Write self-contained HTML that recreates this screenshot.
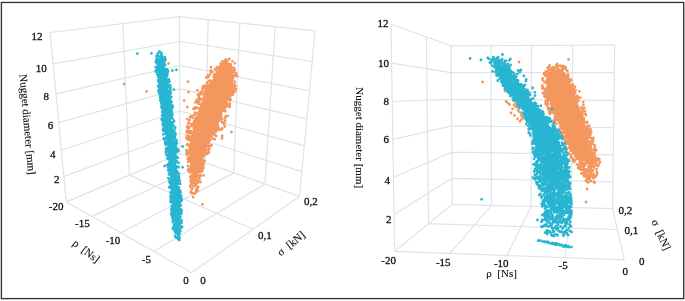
<!DOCTYPE html>
<html><head><meta charset="utf-8"><style>html,body{margin:0;padding:0;background:#fff;}svg{display:block;filter:blur(0.3px);}</style></head>
<body><svg width="685" height="301" viewBox="0 0 685 301"><rect width="685" height="301" fill="#fff"/><path d="M66.3 201.9L179.9 153.6M63.9 176.6L179.8 132.7M61.4 150.2L179.8 111.0M58.7 122.7L179.7 88.6M56.0 93.9L179.6 65.5M53.1 63.9L179.6 41.5M50.1 32.5L179.5 16.7M66.3 201.9L50.1 32.5M129.4 175.1L122.9 23.6M179.9 153.6L179.5 16.7M179.9 153.6L299.5 196.4M179.8 132.7L301.8 171.6M179.8 111.0L304.3 145.8M179.7 88.6L306.8 118.9M179.6 65.5L309.5 90.8M179.6 41.5L312.2 61.5M179.5 16.7L315.1 30.9M205.5 162.8L208.1 19.7M233.7 172.9L239.8 23.0M264.9 184.0L275.2 26.7M299.5 196.4L315.1 30.9M66.3 201.9L179.9 153.6M92.0 216.4L205.5 162.8M120.9 232.8L233.7 172.9M153.8 251.4L264.9 184.0M191.5 272.7L299.5 196.4M66.3 201.9L191.5 272.7M129.4 175.1L253.0 229.2M179.9 153.6L299.5 196.4M394.6 251.4L452.3 204.3M394.0 214.5L452.0 178.3M393.4 177.2L451.8 152.2M392.8 139.5L451.6 125.9M392.2 101.5L451.4 99.4M391.6 63.1L451.2 72.7M391.0 24.3L451.0 45.8M394.6 251.4L391.0 24.3M428.5 223.7L426.4 37.0M452.3 204.3L451.0 45.8M452.3 204.3L612.6 208.6M452.0 178.3L612.9 181.8M451.8 152.2L613.3 154.8M451.6 125.9L613.6 127.6M451.4 99.4L614.0 100.3M451.2 72.7L614.3 72.7M451.0 45.8L614.7 45.0M491.4 205.3L490.9 45.6M531.1 206.4L531.5 45.4M571.5 207.5L572.7 45.2M612.6 208.6L614.7 45.0M394.6 251.4L452.3 204.3M450.0 253.4L491.4 205.3M506.8 255.5L531.1 206.4M564.8 257.7L571.5 207.5M624.3 259.8L612.6 208.6M394.6 251.4L624.3 259.8M428.5 223.7L617.3 229.5M452.3 204.3L612.6 208.6" stroke="#dde3ea" stroke-width="1.2" fill="none"/><path d="M225.5 63.0L224.5 65.0L218.0 70.0L215.0 75.0L213.0 80.0L209.5 85.0L207.5 90.0L202.5 100.0L199.0 110.0L195.5 120.0L193.0 130.0L190.0 140.0L189.5 150.0L190.0 160.0L191.0 170.0L192.0 180.0L197.0 180.0L199.5 170.0L202.5 160.0L206.5 150.0L210.0 140.0L215.0 130.0L219.5 120.0L223.5 110.0L228.0 100.0L233.0 90.0L233.3 85.0L233.5 80.0L233.5 75.0L232.5 70.0L231.5 65.0L230.5 63.0ZM551.5 70.0L548.5 75.0L546.5 80.0L546.5 85.0L546.5 90.0L547.5 95.0L549.5 100.0L550.5 105.0L551.5 110.0L556.5 120.0L562.5 130.0L567.5 140.0L571.5 150.0L576.5 160.0L593.5 160.0L590.5 150.0L588.5 140.0L585.5 130.0L583.5 120.0L580.5 110.0L578.5 105.0L576.5 100.0L575.5 95.0L572.5 90.0L568.5 85.0L566.5 80.0L564.5 75.0L563.5 70.0Z" fill="#f4975f"/><path d="M229.4 59.0h0M226.0 59.5h0M225.4 60.3h0M227.3 60.8h0M222.4 61.4h0M222.7 61.3h0M232.3 61.3h0M225.0 61.9h0M226.9 62.0h0M225.2 62.5h0M226.2 62.7h0M226.8 62.3h0M220.8 63.5h0M226.6 63.6h0M223.6 64.0h0M224.6 63.9h0M229.1 64.0h0M221.5 64.5h0M228.9 64.5h0M230.7 64.4h0M223.7 65.2h0M223.3 65.1h0M229.2 64.8h0M230.7 65.0h0M220.8 65.3h0M221.6 65.3h0M229.8 65.5h0M229.5 65.4h0M224.8 65.8h0M223.7 66.6h0M227.2 66.7h0M227.3 66.3h0M219.8 66.9h0M222.6 66.9h0M230.6 67.1h0M231.7 67.1h0M216.9 67.3h0M218.0 67.6h0M223.7 67.7h0M223.8 67.7h0M227.5 67.6h0M231.2 67.3h0M217.3 67.9h0M219.7 68.0h0M220.7 68.1h0M230.3 68.2h0M230.6 67.9h0M230.8 67.8h0M234.0 68.0h0M223.4 68.3h0M225.2 68.7h0M226.9 68.6h0M227.9 68.3h0M230.2 68.7h0M229.7 68.7h0M215.9 69.0h0M218.7 68.9h0M220.4 69.2h0M224.0 68.8h0M229.7 68.9h0M230.8 69.2h0M215.3 69.7h0M214.9 69.3h0M215.6 69.5h0M221.1 69.6h0M220.9 69.5h0M223.8 69.5h0M234.6 69.3h0M224.0 69.8h0M233.8 70.0h0M211.3 70.6h0M210.7 70.6h0M216.1 70.4h0M220.2 70.4h0M220.7 70.3h0M225.4 70.3h0M227.8 70.7h0M227.2 70.4h0M230.6 70.6h0M231.9 70.3h0M219.6 70.9h0M220.7 71.2h0M224.1 71.0h0M224.8 70.9h0M225.1 70.9h0M228.1 71.1h0M234.3 70.9h0M219.2 71.3h0M225.5 71.4h0M231.5 71.5h0M212.3 71.9h0M234.4 71.9h0M226.0 72.4h0M227.5 72.5h0M210.8 73.0h0M225.4 73.0h0M227.0 73.1h0M226.8 73.0h0M230.9 72.9h0M231.3 73.2h0M231.9 73.1h0M235.3 73.1h0M219.3 73.4h0M221.8 73.6h0M225.6 73.3h0M217.4 73.8h0M219.6 73.9h0M220.7 74.2h0M221.9 74.2h0M224.0 74.1h0M223.8 74.0h0M215.0 74.4h0M215.9 74.3h0M217.0 74.7h0M219.6 74.7h0M219.2 74.3h0M222.6 74.7h0M226.8 74.5h0M208.0 75.2h0M214.1 74.9h0M215.4 75.1h0M216.8 74.9h0M223.1 74.9h0M224.6 75.1h0M226.4 74.9h0M232.1 74.8h0M209.3 75.4h0M223.2 75.6h0M224.7 75.5h0M228.8 75.3h0M230.5 75.7h0M234.1 75.4h0M234.1 75.6h0M214.7 76.1h0M214.9 76.0h0M219.7 76.1h0M223.8 76.1h0M224.9 76.2h0M224.7 76.2h0M227.3 75.8h0M233.4 76.1h0M215.1 76.4h0M217.1 76.4h0M219.1 76.5h0M222.5 76.4h0M222.1 76.6h0M224.1 76.5h0M226.7 76.6h0M229.8 76.5h0M208.3 77.2h0M213.6 76.9h0M214.8 77.2h0M216.5 76.8h0M220.7 77.1h0M220.5 76.8h0M228.4 77.0h0M233.1 77.2h0M215.0 77.7h0M219.9 77.3h0M224.8 77.5h0M225.1 77.6h0M228.1 77.3h0M214.8 78.0h0M214.7 78.1h0M215.1 78.2h0M219.0 77.9h0M226.4 78.2h0M227.9 78.1h0M229.9 78.0h0M214.9 78.3h0M214.7 78.4h0M220.3 78.3h0M220.2 78.3h0M222.6 78.4h0M229.1 78.5h0M232.9 78.6h0M214.9 79.0h0M215.3 79.1h0M218.2 79.2h0M223.9 79.0h0M224.8 78.9h0M224.1 79.1h0M228.2 79.2h0M219.7 79.6h0M220.7 79.4h0M220.1 79.5h0M221.2 79.6h0M222.0 79.3h0M223.8 79.3h0M225.4 79.3h0M226.4 79.6h0M227.6 79.4h0M227.8 79.6h0M229.6 79.3h0M217.3 80.0h0M219.9 79.9h0M219.5 79.8h0M219.4 80.2h0M209.4 80.6h0M212.0 80.7h0M214.1 80.3h0M215.6 80.3h0M218.8 80.5h0M223.7 80.7h0M225.3 80.5h0M231.4 80.4h0M216.2 80.9h0M217.7 81.2h0M219.0 81.1h0M220.9 81.1h0M221.8 81.1h0M221.9 80.8h0M224.6 81.2h0M217.3 81.6h0M217.4 81.6h0M218.2 81.6h0M221.5 81.7h0M222.9 81.7h0M224.5 81.5h0M224.5 81.6h0M226.4 81.6h0M227.7 81.4h0M230.4 81.3h0M234.8 81.6h0M207.6 82.2h0M211.6 82.0h0M215.4 82.0h0M215.9 81.9h0M220.0 82.0h0M221.1 82.1h0M222.6 82.0h0M222.8 81.8h0M224.9 81.9h0M229.4 82.2h0M211.4 82.3h0M216.4 82.6h0M216.1 82.6h0M217.6 82.7h0M217.4 82.7h0M221.2 82.6h0M225.3 82.6h0M227.3 82.3h0M210.7 82.9h0M212.8 82.9h0M218.6 83.0h0M224.9 82.8h0M215.2 83.7h0M216.9 83.4h0M220.4 83.3h0M221.9 83.4h0M223.0 83.6h0M224.8 83.4h0M225.1 83.4h0M226.2 83.3h0M212.9 84.0h0M215.3 84.0h0M219.5 83.8h0M221.3 83.9h0M223.1 83.9h0M223.5 83.9h0M224.1 84.1h0M225.3 83.9h0M210.3 84.5h0M215.1 84.3h0M217.7 84.7h0M219.0 84.5h0M219.5 84.6h0M227.0 84.6h0M234.5 84.5h0M214.5 84.8h0M215.5 84.8h0M217.1 84.8h0M217.7 84.9h0M218.9 85.0h0M219.8 84.8h0M221.2 85.2h0M226.2 84.9h0M228.3 84.8h0M231.9 85.1h0M204.9 85.7h0M206.5 85.4h0M206.3 85.7h0M208.2 85.5h0M215.0 85.5h0M216.5 85.6h0M217.0 85.4h0M216.4 85.5h0M218.5 85.6h0M219.4 85.4h0M222.6 85.7h0M229.3 85.7h0M213.4 86.0h0M213.6 86.1h0M214.0 86.1h0M216.4 85.9h0M217.7 86.1h0M219.3 85.9h0M218.9 86.1h0M220.8 86.2h0M222.0 86.0h0M223.0 86.2h0M222.4 85.8h0M226.1 85.9h0M228.5 86.1h0M228.5 85.9h0M232.8 85.8h0M235.4 86.0h0M203.1 86.5h0M207.3 86.5h0M210.3 86.3h0M212.9 86.5h0M213.8 86.3h0M220.2 86.7h0M225.3 86.3h0M227.9 86.6h0M231.2 86.3h0M233.2 86.7h0M235.0 86.3h0M206.2 87.2h0M208.7 87.1h0M212.0 87.2h0M213.2 87.1h0M215.0 87.2h0M219.8 86.8h0M219.9 87.2h0M224.1 86.9h0M227.2 86.8h0M202.7 87.6h0M208.8 87.5h0M213.3 87.7h0M215.9 87.4h0M216.1 87.4h0M217.9 87.4h0M223.6 87.7h0M226.6 87.3h0M204.3 87.8h0M208.9 88.2h0M212.8 88.1h0M217.0 87.9h0M217.8 88.1h0M219.5 88.1h0M222.8 87.9h0M223.4 87.9h0M225.9 87.9h0M229.3 87.9h0M206.2 88.7h0M210.8 88.6h0M215.6 88.5h0M217.8 88.3h0M220.2 88.4h0M222.2 88.5h0M222.6 88.5h0M222.0 88.5h0M225.7 88.6h0M202.8 89.1h0M209.0 88.9h0M211.6 89.2h0M212.9 89.2h0M223.4 89.1h0M223.6 88.9h0M224.2 89.0h0M227.7 88.8h0M207.5 89.3h0M219.5 89.3h0M220.0 89.5h0M220.1 89.4h0M223.0 89.5h0M224.4 89.4h0M225.1 89.7h0M226.5 89.7h0M231.4 89.7h0M233.5 89.5h0M210.8 89.8h0M214.2 89.8h0M216.1 90.2h0M220.5 90.2h0M220.0 90.2h0M222.0 90.1h0M227.4 90.2h0M231.8 89.8h0M206.0 90.5h0M212.9 90.4h0M214.3 90.5h0M214.5 90.3h0M216.1 90.7h0M216.5 90.4h0M216.6 90.3h0M221.7 90.6h0M222.1 90.5h0M224.2 90.3h0M229.2 90.4h0M230.4 90.3h0M202.1 91.0h0M205.2 91.0h0M212.1 91.0h0M213.5 91.2h0M216.4 91.1h0M218.7 90.9h0M218.8 90.8h0M221.6 90.8h0M221.9 90.9h0M224.7 91.1h0M225.1 90.9h0M226.6 91.2h0M231.9 91.0h0M231.5 91.0h0M206.0 91.6h0M205.9 91.3h0M207.7 91.3h0M210.0 91.4h0M213.7 91.6h0M214.4 91.7h0M216.1 91.6h0M220.7 91.6h0M221.5 91.3h0M223.4 91.7h0M224.1 91.4h0M224.5 91.6h0M228.1 91.7h0M232.9 91.3h0M235.1 91.4h0M208.1 92.1h0M211.2 92.1h0M214.0 92.1h0M214.5 92.1h0M217.5 91.9h0M218.2 92.1h0M222.7 92.2h0M224.3 92.2h0M224.6 92.2h0M227.4 91.9h0M232.0 92.1h0M231.8 91.8h0M233.6 92.0h0M205.3 92.6h0M213.3 92.7h0M214.5 92.3h0M215.5 92.5h0M219.0 92.3h0M222.7 92.6h0M206.2 93.1h0M207.9 93.0h0M212.2 93.2h0M212.9 92.8h0M214.8 93.0h0M219.5 93.0h0M220.0 93.1h0M222.8 93.0h0M228.2 93.2h0M203.1 93.3h0M208.0 93.6h0M208.3 93.7h0M212.2 93.3h0M212.9 93.3h0M213.3 93.5h0M216.6 93.4h0M218.3 93.5h0M219.3 93.3h0M222.5 93.4h0M225.1 93.3h0M229.3 93.5h0M229.7 93.5h0M200.8 94.0h0M202.3 93.8h0M206.8 94.0h0M210.6 94.1h0M210.7 93.8h0M211.7 94.2h0M218.6 93.8h0M221.9 94.1h0M222.0 94.0h0M228.0 93.9h0M212.3 94.5h0M212.4 94.7h0M216.6 94.7h0M219.0 94.7h0M221.8 94.3h0M223.5 94.6h0M224.4 94.3h0M230.4 94.7h0M233.0 94.5h0M198.0 94.8h0M205.7 94.9h0M208.0 95.1h0M208.6 94.8h0M211.8 95.1h0M213.0 95.0h0M215.9 95.0h0M217.8 95.0h0M218.0 95.2h0M224.1 95.0h0M225.6 95.0h0M230.3 95.1h0M231.6 95.1h0M199.1 95.5h0M205.9 95.5h0M207.8 95.6h0M208.6 95.6h0M210.9 95.4h0M211.9 95.5h0M211.5 95.3h0M212.5 95.4h0M215.4 95.6h0M222.6 95.5h0M224.2 95.6h0M224.9 95.4h0M230.4 95.5h0M204.2 96.0h0M206.9 96.1h0M214.8 95.8h0M220.4 96.1h0M227.0 96.1h0M207.4 96.5h0M208.8 96.6h0M208.4 96.3h0M208.1 96.7h0M215.1 96.4h0M216.6 96.5h0M227.3 96.3h0M227.3 96.6h0M198.8 97.2h0M206.7 96.8h0M208.1 97.1h0M209.0 96.8h0M209.8 97.1h0M217.5 96.9h0M218.0 97.0h0M223.3 97.0h0M223.6 97.2h0M224.7 97.2h0M204.7 97.4h0M205.2 97.3h0M207.4 97.6h0M207.3 97.5h0M207.8 97.6h0M210.4 97.6h0M209.7 97.4h0M213.7 97.7h0M217.1 97.6h0M219.6 97.5h0M220.6 97.5h0M226.4 97.3h0M204.8 97.9h0M206.5 98.2h0M208.2 98.2h0M209.1 98.1h0M210.8 98.2h0M216.5 98.2h0M198.6 98.6h0M200.0 98.5h0M203.6 98.5h0M205.3 98.7h0M208.6 98.4h0M216.3 98.3h0M224.3 98.3h0M228.7 98.5h0M229.2 98.7h0M229.6 98.3h0M203.1 99.2h0M205.4 98.8h0M212.4 98.8h0M212.0 99.2h0M215.2 99.1h0M216.2 99.1h0M219.8 98.9h0M223.0 99.0h0M223.6 98.9h0M226.5 99.2h0M227.8 99.0h0M230.4 98.9h0M201.9 99.4h0M201.2 99.4h0M203.2 99.7h0M204.4 99.5h0M210.9 99.7h0M218.5 99.3h0M220.2 99.6h0M221.7 99.7h0M223.1 99.3h0M223.9 99.6h0M224.0 99.7h0M225.2 99.4h0M228.7 99.7h0M196.8 99.9h0M203.3 99.9h0M205.6 99.8h0M210.6 100.2h0M218.6 100.2h0M219.6 99.9h0M230.6 99.9h0M199.1 100.4h0M205.3 100.6h0M207.4 100.6h0M208.1 100.4h0M207.7 100.7h0M208.6 100.7h0M212.3 100.6h0M212.4 100.7h0M212.5 100.4h0M215.2 100.7h0M216.0 100.3h0M218.1 100.3h0M220.6 100.3h0M224.3 100.3h0M229.1 100.3h0M209.0 101.1h0M215.5 100.8h0M219.9 100.9h0M221.2 101.0h0M222.1 101.0h0M196.8 101.4h0M199.3 101.4h0M204.3 101.5h0M209.6 101.3h0M220.5 101.7h0M221.4 101.3h0M203.3 102.2h0M209.6 101.9h0M213.3 102.1h0M216.5 101.9h0M220.4 102.1h0M221.4 101.9h0M195.4 102.4h0M204.8 102.7h0M207.3 102.4h0M211.8 102.7h0M217.3 102.3h0M217.8 102.7h0M217.9 102.4h0M221.2 102.5h0M223.0 102.5h0M208.3 102.8h0M209.6 103.2h0M210.6 102.9h0M213.1 103.1h0M213.8 103.0h0M219.0 102.9h0M220.9 102.8h0M222.1 102.9h0M221.8 103.2h0M223.7 103.0h0M198.1 103.6h0M202.1 103.7h0M208.2 103.4h0M211.8 103.6h0M213.3 103.4h0M215.0 103.4h0M219.8 103.7h0M220.8 103.4h0M220.2 103.5h0M221.4 103.7h0M227.2 103.5h0M230.0 103.6h0M203.1 103.8h0M204.4 103.9h0M207.5 104.0h0M209.9 104.2h0M211.9 104.1h0M226.3 104.2h0M226.8 104.1h0M200.1 104.4h0M205.6 104.4h0M209.3 104.4h0M209.6 104.7h0M212.9 104.6h0M213.9 104.4h0M221.3 104.3h0M227.3 104.6h0M202.6 105.2h0M204.5 104.8h0M210.0 105.2h0M214.2 104.9h0M215.5 105.1h0M217.3 105.1h0M226.7 105.2h0M203.4 105.5h0M204.1 105.6h0M204.4 105.4h0M204.9 105.4h0M209.9 105.4h0M209.8 105.4h0M216.0 105.3h0M216.2 105.7h0M216.9 105.3h0M216.7 105.4h0M219.6 105.5h0M220.0 105.7h0M227.9 105.4h0M204.2 106.2h0M205.7 105.8h0M212.1 105.9h0M212.1 106.1h0M213.3 105.9h0M213.2 105.8h0M216.7 106.0h0M217.5 105.9h0M217.9 105.8h0M219.3 106.0h0M219.3 105.8h0M222.1 105.9h0M223.2 106.0h0M204.1 106.7h0M204.2 106.5h0M208.9 106.5h0M211.6 106.3h0M211.6 106.5h0M213.6 106.3h0M215.8 106.5h0M222.0 106.7h0M227.3 106.4h0M228.3 106.3h0M208.4 106.9h0M210.6 107.2h0M212.0 107.0h0M212.3 107.0h0M220.4 107.1h0M220.9 107.1h0M224.9 106.8h0M229.8 106.8h0M195.8 107.5h0M206.8 107.7h0M207.5 107.3h0M207.6 107.7h0M208.8 107.4h0M210.4 107.5h0M209.9 107.3h0M211.1 107.7h0M211.3 107.3h0M212.6 107.4h0M217.7 107.3h0M225.1 107.5h0M194.5 107.8h0M197.4 108.0h0M201.5 108.1h0M210.6 108.2h0M213.7 108.2h0M214.4 107.8h0M218.6 107.8h0M199.6 108.4h0M199.6 108.7h0M203.8 108.3h0M204.3 108.4h0M204.2 108.3h0M205.5 108.4h0M206.6 108.7h0M208.0 108.3h0M211.2 108.5h0M212.6 108.5h0M215.3 108.6h0M216.7 108.4h0M219.1 108.7h0M221.0 108.7h0M194.3 108.9h0M193.5 109.0h0M209.2 109.2h0M209.3 108.8h0M212.3 109.0h0M223.5 108.8h0M199.8 109.4h0M203.0 109.6h0M214.9 109.3h0M214.5 109.4h0M218.0 109.7h0M224.5 109.7h0M203.2 109.9h0M205.8 110.0h0M206.5 109.9h0M209.7 109.9h0M211.7 110.2h0M212.1 109.9h0M212.9 110.1h0M217.4 109.8h0M201.1 110.5h0M202.3 110.6h0M204.2 110.5h0M207.4 110.4h0M210.7 110.4h0M214.0 110.6h0M218.1 110.7h0M219.1 110.5h0M219.8 110.3h0M205.4 111.0h0M205.6 110.8h0M206.8 111.0h0M208.1 111.2h0M209.1 111.0h0M216.3 111.0h0M217.9 111.1h0M219.6 111.1h0M222.8 110.8h0M205.7 111.5h0M207.3 111.3h0M209.1 111.5h0M214.0 111.5h0M220.0 111.7h0M225.3 111.3h0M199.0 111.8h0M202.1 112.1h0M212.7 112.0h0M218.8 112.1h0M203.0 112.3h0M206.1 112.7h0M210.9 112.7h0M212.7 112.5h0M194.8 112.8h0M195.8 112.8h0M195.1 113.5h0M199.6 113.4h0M200.0 113.4h0M204.1 113.7h0M204.0 113.6h0M208.8 113.3h0M210.2 113.6h0M211.4 113.4h0M212.1 113.7h0M214.7 113.5h0M215.8 113.5h0M215.9 113.7h0M215.9 113.4h0M218.3 113.7h0M219.9 113.3h0M197.6 113.9h0M199.1 113.9h0M201.3 114.0h0M201.9 114.2h0M202.1 114.0h0M204.7 114.0h0M204.5 113.8h0M205.6 114.2h0M206.3 114.1h0M209.7 113.8h0M221.2 114.2h0M202.8 114.3h0M202.6 114.7h0M204.0 114.4h0M204.9 114.7h0M209.2 114.7h0M213.4 114.7h0M216.2 114.4h0M218.8 114.6h0M220.2 114.6h0M221.2 114.5h0M221.2 114.5h0M194.6 115.1h0M201.4 115.1h0M206.3 115.0h0M206.8 114.8h0M206.3 115.1h0M209.7 114.8h0M215.9 114.8h0M199.9 115.3h0M207.1 115.3h0M209.1 115.7h0M210.2 115.4h0M209.8 115.3h0M220.3 115.5h0M220.4 115.5h0M200.2 116.2h0M199.9 116.0h0M200.9 116.2h0M203.1 115.8h0M202.9 116.1h0M204.3 116.1h0M204.8 116.0h0M206.2 115.9h0M205.7 115.8h0M207.3 116.2h0M210.8 116.0h0M219.7 115.8h0M219.7 115.8h0M227.7 115.8h0M201.8 116.5h0M205.4 116.3h0M206.1 116.6h0M210.7 116.4h0M213.6 116.4h0M218.1 116.3h0M220.4 116.4h0M221.0 116.6h0M225.8 116.4h0M199.9 117.0h0M202.9 117.2h0M204.9 117.2h0M209.9 117.0h0M212.7 116.8h0M212.5 116.8h0M212.6 117.1h0M215.8 117.0h0M215.1 117.0h0M196.5 117.4h0M202.3 117.6h0M204.1 117.7h0M204.7 117.6h0M205.8 117.3h0M206.5 117.5h0M212.6 117.5h0M213.5 117.6h0M215.5 117.6h0M218.9 117.7h0M225.5 117.5h0M192.6 117.8h0M195.5 118.1h0M207.8 117.9h0M209.1 118.0h0M210.5 118.0h0M210.2 118.0h0M213.3 117.8h0M220.4 118.0h0M220.2 118.2h0M225.0 117.9h0M195.8 118.4h0M203.2 118.6h0M204.4 118.3h0M203.5 118.5h0M207.8 118.6h0M208.5 118.3h0M209.4 118.4h0M210.9 118.3h0M215.3 118.5h0M218.6 118.3h0M196.8 118.8h0M200.8 119.0h0M202.0 119.2h0M203.2 119.0h0M207.5 118.8h0M208.0 119.0h0M211.7 119.0h0M218.0 119.0h0M222.2 119.1h0M204.9 119.7h0M204.8 119.6h0M207.1 119.4h0M212.2 119.4h0M216.0 119.4h0M218.9 119.5h0M189.7 119.8h0M195.2 119.9h0M197.3 120.0h0M198.4 120.0h0M208.1 120.2h0M208.1 119.8h0M208.2 120.1h0M209.4 119.9h0M210.5 119.9h0M213.5 120.1h0M198.6 120.3h0M198.5 120.5h0M198.9 120.5h0M200.6 120.4h0M202.6 120.4h0M202.5 120.3h0M203.0 120.3h0M204.6 120.7h0M205.0 120.3h0M212.9 120.6h0M216.7 120.6h0M217.8 120.3h0M220.5 120.4h0M225.2 120.6h0M194.2 121.0h0M201.0 120.9h0M204.3 121.0h0M205.5 120.9h0M209.8 121.1h0M213.7 121.2h0M214.8 121.1h0M188.9 121.5h0M203.0 121.3h0M204.5 121.4h0M208.0 121.3h0M212.5 121.4h0M217.8 121.5h0M194.2 122.1h0M204.4 121.8h0M207.0 122.2h0M208.8 121.9h0M210.3 122.1h0M211.7 122.1h0M222.5 122.2h0M195.1 122.3h0M200.1 122.5h0M210.7 122.6h0M210.6 122.7h0M211.8 122.4h0M212.5 122.3h0M213.8 122.6h0M215.4 122.5h0M216.6 122.4h0M217.6 122.5h0M222.5 122.7h0M206.5 123.1h0M209.8 122.9h0M210.8 123.0h0M224.4 122.9h0M188.4 123.5h0M195.9 123.4h0M196.5 123.4h0M199.2 123.4h0M200.3 123.3h0M204.1 123.7h0M208.0 123.3h0M210.5 123.3h0M210.7 123.6h0M211.7 123.6h0M212.6 123.4h0M216.4 123.7h0M223.9 123.6h0M191.0 124.1h0M195.5 124.2h0M202.1 124.2h0M206.2 124.2h0M207.9 124.0h0M210.7 123.8h0M211.4 124.1h0M214.1 123.8h0M215.1 123.8h0M195.9 124.6h0M198.3 124.7h0M201.7 124.7h0M204.0 124.5h0M203.3 124.4h0M207.7 124.4h0M208.0 124.7h0M211.8 124.5h0M212.2 124.6h0M212.9 124.3h0M217.4 124.3h0M224.1 124.3h0M193.7 125.1h0M199.5 125.1h0M206.0 125.1h0M206.9 125.0h0M207.8 124.9h0M209.4 125.1h0M192.0 125.7h0M200.6 125.5h0M201.8 125.3h0M207.5 125.4h0M213.8 125.4h0M217.8 125.7h0M193.4 125.9h0M195.9 126.1h0M196.8 125.9h0M199.8 126.2h0M205.1 126.2h0M206.3 125.8h0M209.1 125.9h0M209.8 126.2h0M212.1 125.9h0M214.9 126.1h0M187.6 126.4h0M187.2 126.4h0M197.7 126.5h0M198.4 126.6h0M200.2 126.6h0M209.4 126.7h0M208.9 126.4h0M208.9 126.3h0M209.7 126.5h0M211.0 126.7h0M211.7 126.3h0M213.0 126.7h0M214.4 126.3h0M215.6 126.5h0M217.4 126.3h0M187.1 127.0h0M189.8 127.1h0M196.9 126.9h0M197.3 127.0h0M197.8 127.2h0M201.3 126.9h0M202.1 127.1h0M203.0 126.9h0M205.2 126.8h0M207.7 127.2h0M213.8 126.9h0M213.3 127.1h0M217.3 127.0h0M187.5 127.7h0M193.8 127.3h0M195.8 127.6h0M197.8 127.4h0M197.7 127.7h0M198.1 127.3h0M203.3 127.6h0M205.9 127.4h0M206.9 127.6h0M208.7 127.4h0M207.8 127.3h0M211.2 127.4h0M211.4 127.3h0M211.6 127.4h0M212.1 127.7h0M213.4 127.7h0M218.6 127.6h0M195.8 127.9h0M199.5 127.8h0M199.3 128.1h0M200.1 128.2h0M202.6 127.9h0M202.6 128.1h0M188.3 128.3h0M193.7 128.3h0M198.7 128.7h0M199.5 128.3h0M200.4 128.6h0M202.5 128.3h0M206.3 128.4h0M205.7 128.3h0M208.3 128.4h0M208.8 128.3h0M210.3 128.3h0M210.7 128.5h0M217.1 128.3h0M218.6 128.7h0M222.2 128.5h0M199.9 129.1h0M202.8 129.2h0M203.9 129.2h0M204.1 128.9h0M208.9 128.8h0M215.3 129.0h0M216.8 129.0h0M195.5 129.6h0M196.0 129.4h0M199.1 129.5h0M199.8 129.3h0M203.0 129.6h0M204.2 129.6h0M205.2 129.5h0M206.4 129.7h0M206.5 129.5h0M208.0 129.4h0M209.4 129.4h0M209.4 129.3h0M211.6 129.4h0M212.2 129.4h0M212.5 129.6h0M216.5 129.5h0M219.3 129.5h0M221.7 129.4h0M200.5 130.1h0M201.5 130.0h0M204.4 129.9h0M207.9 130.0h0M207.5 129.8h0M210.1 130.2h0M211.9 130.1h0M212.7 130.2h0M212.3 130.0h0M213.8 130.0h0M219.0 129.9h0M199.7 130.3h0M200.3 130.7h0M201.3 130.5h0M205.4 130.6h0M205.9 130.3h0M205.1 130.3h0M210.8 130.6h0M212.0 130.7h0M213.0 130.4h0M214.5 130.3h0M187.4 130.8h0M189.4 130.8h0M191.2 131.2h0M195.0 131.1h0M194.5 131.0h0M199.9 130.8h0M201.2 131.0h0M203.8 131.0h0M205.7 131.0h0M207.0 131.1h0M211.4 131.1h0M214.7 131.2h0M214.3 131.0h0M216.2 131.0h0M187.0 131.4h0M194.1 131.5h0M198.0 131.6h0M205.0 131.3h0M206.8 131.5h0M208.0 131.5h0M209.0 131.7h0M211.0 131.7h0M213.2 131.4h0M213.9 131.7h0M216.2 131.6h0M197.1 132.0h0M199.6 132.1h0M201.3 132.0h0M202.3 131.9h0M205.3 132.0h0M206.8 131.8h0M208.9 132.1h0M209.7 131.8h0M210.9 132.2h0M193.4 132.7h0M196.3 132.3h0M197.2 132.7h0M197.5 132.4h0M197.3 132.4h0M200.1 132.3h0M202.8 132.6h0M203.8 132.4h0M204.1 132.3h0M206.0 132.5h0M208.9 132.4h0M214.7 132.3h0M191.8 132.8h0M197.0 133.1h0M199.9 132.9h0M200.1 133.1h0M202.1 132.9h0M201.4 133.1h0M203.1 132.8h0M205.4 133.2h0M209.2 133.2h0M209.3 133.2h0M211.9 133.0h0M188.6 133.3h0M193.2 133.6h0M195.5 133.3h0M197.1 133.6h0M196.3 133.4h0M197.4 133.6h0M198.2 133.3h0M198.9 133.4h0M199.5 133.6h0M200.8 133.6h0M201.3 133.6h0M204.0 133.7h0M206.5 133.5h0M208.5 133.3h0M209.9 133.5h0M213.8 133.7h0M196.3 133.8h0M198.2 133.8h0M201.2 134.2h0M201.0 133.9h0M202.7 134.1h0M206.2 134.1h0M210.3 134.1h0M210.9 134.2h0M213.0 134.1h0M199.0 134.6h0M199.9 134.6h0M199.5 134.4h0M199.5 134.6h0M200.2 134.5h0M203.4 134.4h0M203.9 134.7h0M195.1 135.2h0M194.4 134.9h0M195.6 135.0h0M204.4 135.2h0M209.1 134.9h0M210.2 135.2h0M210.5 134.9h0M214.3 134.8h0M193.9 135.7h0M197.0 135.6h0M200.3 135.6h0M201.5 135.7h0M204.8 135.3h0M210.2 135.5h0M186.9 135.8h0M186.9 136.2h0M197.9 136.0h0M201.8 135.9h0M216.1 136.0h0M189.1 136.5h0M191.8 136.7h0M194.4 136.7h0M195.5 136.5h0M202.7 136.6h0M203.6 136.3h0M205.9 136.4h0M205.5 136.7h0M206.2 136.5h0M208.5 136.4h0M187.5 137.2h0M190.3 137.1h0M197.1 136.9h0M199.5 136.8h0M199.2 136.9h0M200.4 137.0h0M200.9 137.0h0M201.8 137.2h0M205.7 137.0h0M208.7 137.0h0M211.4 136.8h0M189.1 137.4h0M200.8 137.3h0M203.4 137.4h0M206.0 137.7h0M206.9 137.7h0M186.4 138.2h0M190.9 138.1h0M199.1 137.8h0M200.6 138.2h0M205.3 137.8h0M206.3 137.9h0M207.9 137.9h0M196.0 138.5h0M203.2 138.3h0M205.2 138.4h0M206.1 138.6h0M207.8 138.6h0M213.2 138.7h0M190.3 139.0h0M194.7 139.0h0M198.1 139.2h0M202.4 138.9h0M203.8 139.1h0M208.6 139.2h0M187.7 139.5h0M193.6 139.6h0M196.1 139.3h0M198.7 139.7h0M200.8 139.3h0M202.5 139.6h0M214.8 139.3h0M188.4 139.8h0M196.3 139.8h0M197.0 139.9h0M198.3 139.8h0M198.8 139.8h0M200.6 139.8h0M201.8 140.1h0M203.0 140.2h0M205.1 140.0h0M207.6 140.2h0M207.7 140.1h0M210.3 140.0h0M191.3 140.7h0M202.1 140.7h0M207.6 140.3h0M190.7 140.9h0M191.5 141.0h0M193.6 141.1h0M195.7 140.8h0M197.0 141.0h0M202.6 141.1h0M205.7 141.0h0M194.1 141.7h0M195.5 141.6h0M195.0 141.5h0M196.2 141.3h0M196.5 141.3h0M197.1 141.6h0M199.4 141.3h0M202.7 141.3h0M202.5 141.4h0M205.1 141.3h0M206.0 141.4h0M191.8 142.1h0M191.3 141.9h0M193.4 142.1h0M196.6 142.2h0M200.2 142.1h0M201.7 142.1h0M202.5 141.8h0M206.1 142.0h0M206.8 142.0h0M192.8 142.3h0M192.8 142.4h0M196.6 142.6h0M196.7 142.6h0M199.6 142.5h0M201.1 142.4h0M201.0 142.6h0M201.8 142.3h0M203.1 142.3h0M207.2 142.4h0M195.2 143.2h0M197.6 143.0h0M199.6 143.0h0M200.1 143.0h0M204.4 142.8h0M207.4 143.0h0M208.9 143.0h0M187.5 144.2h0M199.4 144.0h0M200.0 144.0h0M206.5 143.8h0M206.8 144.0h0M207.4 143.9h0M190.6 144.7h0M192.0 144.4h0M192.0 144.3h0M194.8 144.4h0M194.0 144.7h0M195.5 144.3h0M196.0 144.7h0M199.1 144.6h0M203.5 144.5h0M203.4 144.6h0M207.7 144.4h0M208.0 144.4h0M187.0 145.2h0M189.8 145.1h0M194.8 145.2h0M199.5 145.2h0M199.9 144.8h0M211.6 145.2h0M194.9 145.5h0M197.0 145.7h0M198.3 145.6h0M203.5 145.7h0M204.6 145.6h0M189.6 146.0h0M196.7 146.1h0M199.6 145.8h0M203.8 145.8h0M205.3 145.8h0M210.2 146.2h0M210.7 146.0h0M190.8 146.5h0M198.8 146.4h0M199.5 146.5h0M203.6 146.4h0M208.6 146.6h0M189.9 147.2h0M194.5 147.0h0M198.7 147.2h0M199.8 147.2h0M202.3 146.9h0M204.3 146.9h0M205.0 146.8h0M191.8 147.3h0M193.4 147.6h0M194.0 147.4h0M199.3 147.6h0M205.4 147.7h0M190.4 147.8h0M192.8 148.0h0M192.3 147.8h0M193.8 148.1h0M194.9 148.1h0M194.5 148.2h0M195.5 148.1h0M199.1 148.2h0M205.8 147.8h0M193.1 148.7h0M195.7 148.7h0M200.2 148.7h0M202.3 148.3h0M192.4 149.0h0M192.2 149.0h0M193.7 149.0h0M194.4 149.0h0M195.6 148.8h0M199.0 149.0h0M201.9 148.9h0M209.3 149.0h0M190.4 149.3h0M194.5 149.3h0M194.1 149.3h0M196.7 149.5h0M197.3 149.5h0M202.2 149.4h0M202.1 149.5h0M202.7 149.3h0M202.6 149.5h0M204.6 149.7h0M186.6 150.1h0M194.4 150.2h0M195.3 149.9h0M195.8 149.8h0M197.3 149.9h0M202.9 149.9h0M204.3 149.8h0M205.6 149.8h0M207.5 150.0h0M186.3 150.6h0M191.3 150.6h0M195.9 150.7h0M197.5 150.7h0M198.1 150.3h0M199.2 150.5h0M202.5 150.5h0M191.9 151.1h0M192.4 150.9h0M193.3 151.1h0M197.6 150.9h0M188.2 151.4h0M198.5 151.7h0M202.5 151.4h0M202.5 151.6h0M190.3 151.8h0M190.3 151.9h0M193.2 152.0h0M194.0 151.8h0M194.9 151.8h0M197.2 151.8h0M199.3 151.8h0M203.0 151.9h0M209.0 152.1h0M189.4 152.3h0M192.1 152.4h0M198.6 152.4h0M199.6 152.7h0M200.7 152.3h0M202.3 152.4h0M202.3 152.7h0M205.9 152.4h0M189.9 152.9h0M194.0 153.2h0M196.5 153.1h0M201.2 153.0h0M202.6 152.9h0M205.4 153.2h0M208.2 153.2h0M186.4 153.4h0M187.4 153.7h0M196.0 153.7h0M201.7 153.4h0M205.2 153.5h0M206.0 153.4h0M187.3 154.0h0M191.9 154.0h0M201.7 153.9h0M203.1 153.8h0M207.2 153.8h0M188.1 154.3h0M194.7 154.5h0M196.6 154.6h0M200.6 154.3h0M203.8 154.6h0M187.5 154.9h0M191.7 155.1h0M194.6 155.2h0M194.7 155.1h0M195.0 154.9h0M197.7 154.8h0M201.7 155.2h0M204.8 154.8h0M191.4 155.7h0M192.7 155.7h0M195.4 155.7h0M195.3 155.3h0M198.0 155.5h0M202.6 155.5h0M192.0 156.2h0M198.8 156.2h0M190.7 156.3h0M190.8 156.5h0M192.3 156.3h0M195.1 156.6h0M195.2 156.3h0M195.1 156.5h0M198.1 156.6h0M189.5 157.1h0M191.2 157.2h0M194.4 157.0h0M193.8 157.2h0M194.9 157.2h0M201.0 156.8h0M203.2 157.2h0M190.5 157.5h0M193.6 157.4h0M198.8 157.6h0M199.6 157.7h0M200.3 157.3h0M201.5 157.3h0M189.6 157.9h0M190.2 158.0h0M190.4 157.9h0M191.8 158.2h0M191.3 158.0h0M192.7 158.2h0M193.9 158.1h0M201.3 157.8h0M187.7 158.7h0M189.2 158.7h0M190.5 158.7h0M190.9 158.6h0M197.8 158.4h0M190.5 159.0h0M199.5 159.2h0M200.8 158.8h0M190.0 159.6h0M191.5 159.6h0M192.4 159.4h0M191.9 159.5h0M198.2 159.6h0M199.0 159.7h0M201.9 159.5h0M189.2 159.9h0M192.8 160.1h0M193.0 159.9h0M192.2 159.9h0M194.3 160.0h0M191.4 160.3h0M194.5 160.5h0M194.0 160.4h0M200.5 160.5h0M201.3 160.4h0M203.9 160.7h0M197.4 160.9h0M204.6 161.0h0M188.7 161.3h0M188.5 161.5h0M192.5 161.4h0M192.7 161.5h0M203.6 161.4h0M188.2 161.9h0M191.3 162.1h0M192.7 161.8h0M201.3 162.1h0M194.9 162.3h0M195.9 162.5h0M201.7 162.4h0M192.8 163.0h0M194.4 163.0h0M194.2 163.0h0M196.2 163.1h0M197.9 163.2h0M201.7 163.1h0M198.0 163.4h0M192.8 164.2h0M193.7 163.8h0M195.1 164.2h0M196.4 163.9h0M191.4 164.6h0M192.9 164.3h0M194.5 164.4h0M203.9 164.5h0M191.4 165.2h0M198.4 165.2h0M198.3 165.1h0M198.1 164.9h0M201.7 165.1h0M201.6 164.8h0M196.6 165.3h0M200.1 165.4h0M187.9 165.9h0M191.0 166.0h0M191.9 166.1h0M195.0 166.2h0M196.5 165.9h0M199.8 166.0h0M199.0 166.4h0M201.5 166.6h0M202.0 166.3h0M192.9 166.8h0M190.6 167.5h0M194.9 167.7h0M202.2 167.7h0M196.9 168.0h0M199.6 167.9h0M193.6 168.7h0M194.2 168.7h0M195.8 168.3h0M198.4 168.5h0M188.8 168.9h0M190.2 169.1h0M191.2 168.8h0M194.6 169.1h0M194.9 169.0h0M200.3 169.2h0M201.4 168.9h0M190.7 169.3h0M196.5 169.5h0M196.1 169.3h0M201.3 169.5h0M193.1 169.9h0M195.1 170.2h0M202.5 169.9h0M192.1 170.6h0M192.8 170.6h0M195.2 170.4h0M196.5 170.4h0M200.8 170.4h0M200.6 170.4h0M190.5 171.2h0M190.3 170.9h0M192.1 170.8h0M193.9 170.8h0M193.5 170.8h0M193.2 170.8h0M196.3 170.9h0M196.0 170.9h0M198.3 170.8h0M199.6 171.1h0M195.1 171.6h0M202.0 171.6h0M192.2 171.8h0M193.8 171.8h0M197.6 171.9h0M198.7 171.9h0M200.0 172.1h0M189.4 172.3h0M192.0 172.7h0M195.8 172.7h0M194.6 173.2h0M193.3 173.7h0M195.9 173.5h0M195.6 174.1h0M195.8 173.8h0M192.8 174.3h0M196.6 174.4h0M194.6 175.2h0M194.8 174.8h0M197.1 175.6h0M199.8 175.4h0M200.1 175.5h0M190.9 176.1h0M193.0 176.2h0M200.8 175.9h0M191.5 176.4h0M191.5 176.6h0M191.6 176.6h0M196.4 176.6h0M195.9 176.7h0M197.0 176.3h0M190.1 177.0h0M192.7 177.4h0M194.0 177.6h0M199.0 177.6h0M191.9 178.4h0M193.2 179.1h0M191.4 179.7h0M191.0 179.4h0M193.3 179.5h0M194.0 179.7h0M195.6 179.6h0M194.4 179.9h0M196.4 180.1h0M191.7 180.6h0M193.1 180.6h0M197.4 180.5h0M191.1 180.9h0M190.6 181.6h0M193.9 181.3h0M197.7 181.8h0M194.7 182.5h0M193.7 182.8h0M191.4 183.5h0M196.9 183.4h0M196.2 183.8h0M194.8 184.6h0M191.7 184.8h0M190.6 185.4h0M195.5 185.6h0M195.5 185.5h0M190.1 186.1h0M190.3 186.3h0M193.6 186.4h0M197.3 187.2h0M198.2 187.0h0M191.5 188.2h0M192.3 188.7h0M196.8 188.9h0M196.3 189.8h0M197.7 190.5h0M197.0 190.7h0M191.2 191.4h0M196.7 191.5h0M195.8 192.0h0M190.8 192.4h0M192.1 193.2h0M192.8 193.3h0M194.6 193.7h0M193.1 197.2h0M234.9 63.3h0M211.0 67.1h0M217.1 72.6h0M218.0 73.2h0M236.2 73.6h0M236.2 76.1h0M237.3 76.1h0M206.1 77.7h0M228.9 77.8h0M223.3 80.4h0M229.4 81.1h0M217.4 82.6h0M207.0 82.8h0M219.5 84.2h0M211.1 84.8h0M222.5 86.4h0M215.2 87.5h0M226.8 88.6h0M236.0 88.9h0M209.8 89.7h0M230.2 89.7h0M197.3 90.3h0M188.5 92.2h0M200.5 92.4h0M199.7 93.7h0M224.8 96.2h0M224.4 98.7h0M184.2 100.6h0M220.5 100.9h0M197.3 101.8h0M229.5 105.1h0M228.5 105.5h0M187.3 107.2h0M209.2 112.0h0M216.6 112.1h0M216.0 114.9h0M192.2 116.1h0M190.9 116.3h0M200.0 116.3h0M205.5 116.5h0M190.0 117.0h0M205.6 118.6h0M221.2 118.5h0M187.0 119.1h0M193.4 123.4h0M198.4 127.6h0M205.5 127.8h0M187.1 131.3h0M186.7 132.1h0M190.0 132.7h0M191.3 133.3h0M207.8 135.5h0M208.1 136.9h0M188.7 137.8h0M221.9 138.4h0M190.3 139.2h0M196.3 140.3h0M200.3 141.6h0M195.2 148.1h0M189.7 149.0h0M201.0 153.4h0M200.0 154.8h0M197.3 155.9h0M197.9 156.5h0M199.9 159.6h0M198.0 165.1h0M187.9 169.9h0M196.5 169.8h0M193.0 171.7h0M200.5 175.1h0M203.7 175.3h0M199.5 179.0h0M198.5 182.0h0M200.5 182.0h0M557.2 63.8h0M557.0 64.5h0M549.7 65.3h0M556.3 65.5h0M559.2 65.8h0M560.4 66.0h0M561.9 66.0h0M558.0 66.6h0M558.3 66.5h0M557.7 66.5h0M564.1 66.4h0M564.0 66.5h0M549.2 67.1h0M553.5 67.1h0M557.5 67.0h0M547.6 67.7h0M557.3 67.5h0M565.8 67.4h0M551.9 68.2h0M554.6 68.2h0M557.1 67.9h0M562.2 67.8h0M564.6 67.8h0M551.8 68.5h0M552.7 68.5h0M565.2 68.4h0M554.2 69.0h0M558.0 69.1h0M563.0 69.2h0M549.4 69.6h0M552.0 69.5h0M557.6 69.5h0M551.3 69.9h0M553.3 70.1h0M553.1 69.9h0M553.1 69.8h0M554.4 70.0h0M558.4 69.8h0M559.1 69.8h0M561.6 70.0h0M553.5 70.4h0M558.0 70.5h0M558.9 70.4h0M562.3 70.3h0M566.6 70.5h0M548.0 70.8h0M552.8 71.0h0M556.4 71.2h0M558.4 71.1h0M567.4 71.1h0M545.9 71.5h0M546.0 72.2h0M556.5 71.8h0M547.1 72.5h0M548.2 72.5h0M548.6 72.6h0M551.2 72.3h0M551.7 72.6h0M553.9 72.5h0M557.5 72.3h0M560.6 72.3h0M544.3 73.2h0M550.2 73.0h0M553.9 72.9h0M555.4 72.8h0M555.0 72.9h0M560.3 72.8h0M554.1 73.6h0M553.7 73.5h0M553.3 73.4h0M555.1 73.7h0M564.3 73.6h0M544.1 74.0h0M549.0 74.1h0M549.7 74.0h0M552.9 74.2h0M553.5 73.8h0M554.4 74.0h0M555.5 73.9h0M558.1 73.9h0M558.0 74.0h0M554.4 74.5h0M560.8 74.6h0M564.2 74.4h0M568.1 74.3h0M546.2 75.0h0M550.1 75.1h0M552.5 75.0h0M554.5 75.2h0M554.3 75.0h0M554.1 75.1h0M561.9 74.8h0M561.2 74.8h0M565.0 75.0h0M548.6 75.4h0M547.9 75.6h0M549.7 75.5h0M549.8 75.5h0M555.9 75.7h0M558.3 75.7h0M559.4 75.7h0M558.8 75.7h0M545.5 76.0h0M549.3 76.0h0M551.3 76.2h0M558.4 75.8h0M560.5 76.0h0M562.7 75.9h0M565.7 75.9h0M568.2 76.2h0M547.4 76.6h0M554.6 76.6h0M554.4 76.5h0M554.8 76.7h0M562.8 76.6h0M563.8 76.6h0M567.0 76.5h0M567.4 76.5h0M549.1 76.8h0M552.6 76.9h0M556.4 76.8h0M556.4 77.1h0M560.2 77.2h0M565.4 76.8h0M553.7 77.7h0M554.7 77.4h0M556.7 77.7h0M558.5 77.4h0M560.7 77.3h0M549.7 78.1h0M553.7 77.8h0M556.9 77.8h0M558.2 77.9h0M561.7 78.0h0M563.6 77.8h0M567.2 78.2h0M568.2 78.1h0M542.7 78.4h0M547.6 78.6h0M550.7 78.3h0M552.4 78.7h0M556.7 78.3h0M559.6 78.6h0M559.2 78.3h0M561.0 78.7h0M565.5 78.7h0M549.7 78.8h0M552.7 79.0h0M554.3 79.1h0M556.5 78.9h0M557.1 79.0h0M561.5 79.1h0M563.2 79.2h0M568.9 78.8h0M547.8 79.3h0M552.9 79.3h0M553.4 79.6h0M553.2 79.3h0M558.2 79.7h0M561.5 79.5h0M564.4 79.7h0M565.6 79.3h0M570.7 79.6h0M542.5 79.9h0M547.1 80.2h0M551.2 80.1h0M551.8 80.0h0M553.5 79.8h0M558.9 79.8h0M559.9 80.0h0M559.7 80.0h0M547.5 80.5h0M547.8 80.4h0M550.3 80.5h0M550.0 80.4h0M551.0 80.5h0M551.0 80.3h0M551.5 80.7h0M552.5 80.7h0M558.2 80.7h0M558.6 80.4h0M560.2 80.7h0M560.2 80.5h0M560.7 80.6h0M562.1 80.3h0M566.3 80.6h0M571.3 80.3h0M548.6 81.1h0M553.3 81.1h0M557.8 81.0h0M559.1 81.2h0M560.6 81.0h0M560.3 81.2h0M564.9 81.2h0M567.9 80.8h0M546.3 81.6h0M550.4 81.7h0M553.3 81.5h0M563.7 81.4h0M566.5 81.7h0M544.3 81.8h0M544.7 82.1h0M546.2 82.1h0M548.1 81.8h0M550.1 82.0h0M554.3 82.1h0M555.6 82.0h0M557.8 81.9h0M563.8 81.9h0M569.6 82.0h0M544.6 82.4h0M554.2 82.6h0M556.4 82.6h0M557.5 82.6h0M557.0 82.3h0M557.3 82.6h0M559.3 82.3h0M560.8 82.6h0M547.2 83.1h0M547.9 82.8h0M554.0 82.9h0M554.0 83.0h0M556.1 82.9h0M557.0 83.2h0M560.9 83.2h0M561.9 82.9h0M563.8 82.8h0M564.6 83.1h0M564.0 83.1h0M548.5 83.3h0M551.5 83.4h0M551.0 83.3h0M552.2 83.7h0M553.4 83.7h0M554.3 83.4h0M555.2 83.4h0M560.1 83.6h0M563.9 83.4h0M568.9 83.6h0M549.2 84.1h0M549.9 83.8h0M556.1 83.8h0M557.7 84.2h0M565.8 84.2h0M566.6 83.8h0M548.7 84.6h0M549.9 84.6h0M550.7 84.5h0M551.9 84.3h0M552.5 84.7h0M554.3 84.3h0M559.2 84.6h0M563.7 84.7h0M566.6 84.4h0M568.6 84.3h0M568.3 84.3h0M569.0 84.6h0M572.9 84.3h0M554.0 84.8h0M556.8 85.0h0M560.2 84.8h0M571.4 85.2h0M542.2 85.6h0M552.4 85.4h0M553.2 85.4h0M556.8 85.5h0M557.0 85.4h0M564.5 85.3h0M572.1 85.5h0M548.7 85.9h0M553.4 86.1h0M555.0 85.8h0M555.7 86.1h0M555.7 85.8h0M556.4 86.2h0M566.1 86.0h0M567.6 86.2h0M569.4 86.0h0M572.0 85.9h0M571.5 85.8h0M572.8 85.9h0M542.5 86.7h0M553.4 86.3h0M554.6 86.3h0M560.0 86.5h0M560.9 86.4h0M561.7 86.5h0M563.4 86.6h0M562.8 86.6h0M564.4 86.3h0M565.4 86.3h0M566.0 86.3h0M566.5 86.7h0M551.4 87.2h0M552.7 86.9h0M557.0 87.2h0M562.6 86.8h0M565.7 87.2h0M566.9 87.0h0M568.5 87.2h0M568.7 86.9h0M571.3 87.1h0M575.0 86.9h0M542.9 87.4h0M551.9 87.3h0M555.3 87.5h0M562.7 87.3h0M562.8 87.5h0M565.2 87.5h0M568.1 87.6h0M552.0 87.8h0M558.4 88.2h0M560.5 87.9h0M564.3 87.8h0M565.1 88.0h0M565.5 88.2h0M568.7 88.1h0M570.9 88.1h0M571.8 87.8h0M542.1 88.3h0M546.5 88.5h0M549.0 88.6h0M551.2 88.6h0M552.1 88.5h0M556.4 88.5h0M557.3 88.7h0M558.4 88.6h0M563.2 88.7h0M564.6 88.3h0M566.4 88.5h0M566.0 88.4h0M550.5 88.9h0M551.7 89.1h0M552.0 89.1h0M552.9 88.8h0M561.8 89.2h0M563.8 89.0h0M566.5 88.9h0M567.7 89.0h0M573.9 89.1h0M544.5 89.5h0M544.3 89.3h0M548.2 89.3h0M550.4 89.6h0M550.2 89.4h0M553.2 89.3h0M559.2 89.4h0M562.2 89.7h0M567.0 89.3h0M568.0 89.3h0M569.9 89.5h0M572.8 89.6h0M548.0 90.0h0M550.0 90.0h0M553.1 90.1h0M554.3 90.0h0M554.1 90.2h0M558.0 90.0h0M560.7 90.1h0M561.2 89.9h0M567.2 89.9h0M575.6 90.2h0M547.7 90.5h0M552.1 90.3h0M553.4 90.5h0M554.1 90.6h0M555.7 90.6h0M555.3 90.7h0M556.5 90.3h0M556.9 90.5h0M558.7 90.5h0M562.5 90.7h0M568.5 90.3h0M571.0 90.4h0M572.3 90.6h0M554.4 90.9h0M556.9 90.8h0M556.3 90.9h0M561.0 90.8h0M563.8 90.8h0M566.9 91.0h0M569.4 91.2h0M571.6 91.2h0M573.5 90.9h0M573.3 91.1h0M545.8 91.6h0M548.2 91.4h0M550.7 91.7h0M552.2 91.5h0M553.6 91.3h0M559.7 91.5h0M561.3 91.7h0M561.8 91.6h0M563.1 91.6h0M564.3 91.6h0M564.3 91.6h0M566.4 91.4h0M568.0 91.6h0M570.2 91.3h0M572.2 91.5h0M579.4 91.3h0M545.9 92.2h0M552.6 91.8h0M552.8 91.8h0M553.8 91.9h0M560.2 91.8h0M561.8 91.8h0M564.5 91.8h0M565.4 92.0h0M566.8 92.0h0M573.2 91.8h0M548.1 92.4h0M549.2 92.4h0M552.9 92.5h0M553.8 92.7h0M554.4 92.4h0M556.0 92.7h0M557.6 92.6h0M561.3 92.6h0M572.2 92.5h0M542.8 92.8h0M542.9 92.8h0M544.8 93.2h0M547.7 93.0h0M548.8 92.9h0M552.3 92.8h0M552.9 93.2h0M560.0 93.0h0M562.6 92.8h0M566.4 92.8h0M575.2 92.8h0M552.8 93.3h0M553.6 93.3h0M555.4 93.6h0M557.3 93.5h0M570.5 93.6h0M543.9 94.0h0M548.4 93.8h0M557.2 94.1h0M557.8 93.9h0M558.1 93.9h0M558.7 94.1h0M559.7 93.8h0M563.2 93.8h0M569.4 93.9h0M569.9 94.1h0M549.0 94.6h0M550.7 94.5h0M551.7 94.3h0M553.1 94.5h0M557.7 94.7h0M559.3 94.6h0M562.5 94.4h0M563.1 94.3h0M563.7 94.5h0M564.8 94.3h0M568.7 94.6h0M548.1 94.9h0M548.9 95.0h0M554.3 94.9h0M551.2 95.3h0M554.2 95.7h0M556.6 95.7h0M562.5 95.3h0M564.6 95.6h0M565.3 95.6h0M565.5 95.5h0M565.4 95.7h0M565.4 95.7h0M568.1 95.4h0M569.5 95.3h0M572.3 95.3h0M545.6 95.9h0M546.2 96.0h0M552.5 95.8h0M553.9 96.0h0M557.2 95.8h0M559.0 96.0h0M562.9 95.9h0M567.4 96.0h0M573.9 95.9h0M577.3 95.9h0M544.5 96.4h0M544.5 96.6h0M545.3 96.6h0M558.7 96.3h0M560.4 96.5h0M565.4 96.3h0M566.6 96.6h0M570.4 96.5h0M576.9 96.4h0M557.0 97.0h0M557.7 97.2h0M562.5 96.8h0M565.7 97.2h0M566.4 97.2h0M566.4 97.0h0M567.8 96.8h0M569.9 97.1h0M573.1 97.0h0M573.2 97.2h0M576.5 97.1h0M546.3 97.4h0M548.1 97.3h0M555.1 97.5h0M555.2 97.3h0M561.9 97.6h0M563.2 97.3h0M570.7 97.5h0M570.7 97.7h0M578.8 97.6h0M580.2 97.7h0M547.3 98.0h0M551.2 98.1h0M553.1 98.2h0M555.4 97.8h0M556.3 98.1h0M557.9 98.2h0M570.2 97.8h0M572.4 98.1h0M572.2 98.1h0M573.4 98.2h0M575.9 98.2h0M576.9 98.1h0M578.1 98.1h0M552.5 98.4h0M557.8 98.6h0M558.0 98.6h0M559.7 98.5h0M561.2 98.7h0M562.7 98.4h0M563.2 98.4h0M570.0 98.5h0M572.5 98.4h0M575.4 98.3h0M549.0 99.1h0M554.1 98.9h0M557.8 99.1h0M562.1 99.2h0M569.3 99.1h0M572.1 98.9h0M575.8 98.9h0M550.4 99.4h0M550.7 99.7h0M554.4 99.6h0M556.3 99.5h0M566.7 99.3h0M567.8 99.5h0M570.1 99.4h0M553.4 99.9h0M561.3 100.2h0M563.3 100.0h0M567.0 100.2h0M568.1 100.0h0M569.8 100.2h0M547.5 100.4h0M551.7 100.7h0M562.6 100.3h0M565.0 100.7h0M567.3 100.4h0M577.9 100.6h0M545.8 100.8h0M546.9 101.2h0M547.7 101.2h0M551.7 101.2h0M556.2 101.0h0M558.9 100.8h0M561.4 100.8h0M563.2 101.0h0M566.0 100.9h0M565.3 100.8h0M566.7 101.2h0M567.6 101.0h0M567.7 101.2h0M570.8 101.0h0M573.5 100.8h0M576.3 100.8h0M578.3 101.0h0M547.4 101.5h0M547.9 101.7h0M552.1 101.4h0M553.4 101.6h0M554.7 101.3h0M555.8 101.4h0M565.0 101.3h0M571.8 101.3h0M574.2 101.6h0M575.0 101.4h0M554.0 101.8h0M557.5 102.0h0M557.9 102.2h0M559.9 102.1h0M560.8 102.2h0M563.0 101.8h0M564.8 101.9h0M565.0 102.1h0M569.1 101.8h0M569.1 101.9h0M569.6 102.2h0M570.6 101.8h0M574.0 101.9h0M583.3 102.1h0M551.3 102.5h0M553.2 102.5h0M565.2 102.6h0M567.3 102.6h0M572.0 102.7h0M572.0 102.6h0M573.1 102.3h0M576.3 102.3h0M545.5 103.2h0M555.7 103.1h0M556.4 103.0h0M558.5 103.0h0M563.4 103.0h0M569.5 103.0h0M572.0 103.0h0M576.2 102.9h0M551.3 103.6h0M554.4 103.5h0M557.0 103.3h0M561.2 103.6h0M563.9 103.5h0M565.2 103.7h0M566.2 103.4h0M567.1 103.4h0M568.5 103.3h0M570.4 103.6h0M574.0 103.3h0M576.3 103.6h0M545.6 104.1h0M548.1 104.1h0M551.0 104.0h0M552.2 103.8h0M555.0 104.0h0M559.0 104.1h0M561.7 104.0h0M563.1 104.2h0M563.0 103.8h0M564.3 104.0h0M567.1 103.9h0M569.4 104.0h0M552.9 104.5h0M561.2 104.5h0M561.5 104.3h0M562.1 104.6h0M563.3 104.7h0M565.9 104.4h0M566.5 104.6h0M567.8 104.7h0M570.3 104.7h0M546.7 105.1h0M551.5 104.8h0M553.9 104.9h0M554.8 104.8h0M561.1 105.2h0M564.2 105.0h0M573.6 105.0h0M574.0 105.1h0M573.7 104.9h0M575.8 104.8h0M583.4 105.0h0M561.9 105.4h0M561.2 105.3h0M564.5 105.7h0M565.5 105.4h0M566.0 105.7h0M567.0 105.7h0M567.6 105.3h0M568.2 105.6h0M572.6 105.4h0M573.4 105.6h0M574.9 105.6h0M575.7 105.7h0M575.7 105.5h0M553.1 106.2h0M556.6 106.1h0M557.4 105.8h0M560.0 106.2h0M560.6 106.0h0M561.5 105.9h0M563.0 106.1h0M565.6 106.0h0M566.2 106.2h0M568.3 106.2h0M575.3 106.2h0M556.9 106.3h0M559.3 106.7h0M561.4 106.5h0M561.6 106.6h0M566.8 106.3h0M576.7 106.4h0M557.5 107.1h0M561.9 106.8h0M565.7 106.9h0M567.8 107.0h0M571.4 106.8h0M572.0 106.9h0M577.5 107.0h0M547.7 107.3h0M554.7 107.7h0M558.8 107.5h0M559.5 107.6h0M560.0 107.6h0M559.9 107.7h0M573.4 107.4h0M572.8 107.6h0M574.2 107.3h0M581.2 107.4h0M549.1 107.8h0M551.0 108.1h0M553.5 108.0h0M554.7 107.8h0M556.0 108.0h0M558.6 107.8h0M561.6 108.0h0M561.7 108.1h0M565.3 108.0h0M571.3 107.8h0M572.7 108.0h0M573.5 108.2h0M575.2 108.1h0M576.1 108.0h0M576.5 108.1h0M577.5 107.8h0M581.7 108.2h0M584.4 108.1h0M554.4 108.3h0M559.1 108.7h0M563.3 108.5h0M566.0 108.5h0M569.2 108.4h0M574.3 108.5h0M575.0 108.7h0M578.1 108.7h0M548.2 109.0h0M558.0 108.8h0M564.3 109.0h0M564.6 109.1h0M564.8 108.9h0M571.1 108.9h0M573.8 108.8h0M578.4 109.1h0M583.1 109.0h0M552.1 109.4h0M554.1 109.7h0M558.2 109.4h0M559.8 109.7h0M560.9 109.4h0M567.5 109.6h0M570.2 109.3h0M572.6 109.7h0M573.4 109.4h0M576.2 109.7h0M578.3 109.6h0M578.5 109.5h0M549.5 110.2h0M550.3 110.0h0M554.4 110.2h0M561.0 110.2h0M565.2 109.8h0M569.2 110.0h0M569.7 110.0h0M571.0 110.2h0M574.2 110.2h0M576.1 110.2h0M578.0 109.9h0M582.3 110.1h0M552.2 110.4h0M562.4 110.4h0M567.5 110.5h0M571.4 110.4h0M573.4 110.7h0M576.1 110.4h0M578.8 110.3h0M553.5 110.8h0M554.7 110.8h0M560.2 110.9h0M562.5 111.1h0M566.9 110.8h0M566.8 111.2h0M574.8 110.8h0M555.4 111.3h0M562.6 111.3h0M564.5 111.4h0M568.2 111.5h0M567.7 111.5h0M568.7 111.5h0M572.0 111.4h0M571.6 111.5h0M574.1 111.5h0M585.1 111.3h0M549.1 111.9h0M557.8 112.1h0M558.3 112.0h0M560.2 111.8h0M561.7 112.2h0M562.2 111.9h0M563.7 112.1h0M564.9 112.1h0M566.0 111.8h0M570.8 111.8h0M580.5 112.1h0M582.6 111.9h0M550.7 112.3h0M551.5 112.6h0M551.9 112.6h0M552.2 112.3h0M560.3 112.5h0M561.4 112.5h0M562.1 112.5h0M564.2 112.3h0M566.7 112.6h0M567.1 112.4h0M572.3 112.4h0M573.4 112.3h0M581.2 112.7h0M551.8 112.8h0M556.6 113.1h0M562.7 112.9h0M566.7 113.1h0M570.6 112.8h0M575.4 113.0h0M581.4 113.0h0M558.5 113.4h0M563.7 113.3h0M565.4 113.5h0M566.2 113.7h0M568.0 113.5h0M570.9 113.3h0M576.2 113.7h0M578.2 113.5h0M582.4 113.4h0M549.7 114.1h0M557.6 114.0h0M561.0 114.2h0M560.9 114.2h0M564.6 114.1h0M566.3 114.1h0M566.2 114.0h0M567.4 114.1h0M568.8 114.0h0M576.8 114.1h0M585.3 114.1h0M559.0 114.3h0M559.3 114.7h0M559.3 114.3h0M560.5 114.3h0M563.0 114.7h0M565.8 114.7h0M571.6 114.4h0M579.1 114.5h0M555.0 114.9h0M560.2 115.1h0M561.7 115.2h0M564.3 115.0h0M564.0 115.1h0M565.2 115.2h0M565.7 114.8h0M567.6 115.0h0M570.3 114.8h0M569.8 114.9h0M571.7 115.1h0M573.4 114.9h0M573.9 115.0h0M576.0 115.1h0M576.1 115.1h0M577.2 115.1h0M578.9 115.1h0M579.2 114.8h0M580.0 114.8h0M580.8 115.1h0M582.5 114.9h0M585.9 115.2h0M566.4 115.4h0M567.5 115.6h0M567.4 115.4h0M568.6 115.6h0M571.9 115.3h0M574.8 115.6h0M575.1 115.5h0M575.7 115.4h0M579.5 115.3h0M556.3 116.2h0M559.2 116.1h0M562.2 116.2h0M565.7 116.1h0M567.6 115.8h0M570.0 116.0h0M573.5 115.8h0M578.5 115.8h0M578.5 116.1h0M579.8 116.0h0M566.7 116.4h0M571.6 116.7h0M582.1 116.7h0M555.7 116.8h0M557.2 117.1h0M557.7 116.8h0M560.7 116.8h0M563.5 117.2h0M565.9 117.0h0M565.5 117.1h0M566.9 117.0h0M566.5 116.8h0M569.5 116.9h0M573.5 117.0h0M573.9 117.1h0M575.2 117.1h0M554.7 117.5h0M568.5 117.4h0M570.4 117.5h0M571.8 117.3h0M573.9 117.6h0M561.9 117.9h0M563.1 117.9h0M564.6 118.2h0M567.7 117.9h0M573.4 118.0h0M572.8 118.2h0M574.2 118.0h0M575.2 118.2h0M576.2 117.8h0M578.1 118.0h0M583.1 117.9h0M559.7 118.6h0M562.9 118.7h0M563.1 118.6h0M564.4 118.6h0M567.5 118.6h0M573.0 118.6h0M575.9 118.3h0M576.8 118.3h0M583.9 118.5h0M562.4 119.0h0M562.5 119.2h0M563.5 119.2h0M566.6 119.2h0M575.0 119.0h0M576.7 118.9h0M577.9 119.0h0M578.7 119.1h0M583.0 119.1h0M582.9 119.2h0M556.0 119.6h0M557.9 119.4h0M560.4 119.3h0M562.3 119.3h0M562.6 119.3h0M564.7 119.5h0M568.5 119.3h0M570.9 119.6h0M573.0 119.5h0M573.3 119.4h0M574.5 119.6h0M576.3 119.6h0M577.6 119.5h0M555.1 119.8h0M566.3 120.0h0M567.7 120.1h0M569.6 119.9h0M571.7 120.2h0M578.8 120.1h0M578.9 120.0h0M553.7 120.5h0M558.9 120.6h0M559.7 120.6h0M560.8 120.7h0M562.8 120.4h0M564.9 120.5h0M565.9 120.5h0M566.7 120.6h0M567.8 120.6h0M572.1 120.5h0M572.6 120.3h0M574.7 120.4h0M576.0 120.5h0M577.2 120.5h0M578.5 120.3h0M563.9 121.2h0M565.3 120.8h0M569.0 121.1h0M569.5 121.2h0M570.2 120.9h0M573.3 121.2h0M573.8 121.2h0M574.3 120.8h0M580.1 121.1h0M584.2 121.0h0M560.4 121.7h0M561.8 121.5h0M562.8 121.4h0M564.5 121.3h0M566.1 121.4h0M569.4 121.4h0M571.1 121.5h0M572.4 121.5h0M572.0 121.5h0M572.9 121.3h0M576.2 121.7h0M577.0 121.5h0M583.7 121.7h0M554.7 121.8h0M562.9 121.9h0M563.3 122.2h0M565.4 121.8h0M568.0 122.2h0M569.8 122.2h0M570.3 122.2h0M572.1 122.1h0M572.0 122.2h0M572.1 122.1h0M573.3 121.8h0M581.1 122.1h0M587.3 122.0h0M560.2 122.3h0M563.1 122.3h0M566.5 122.3h0M567.2 122.7h0M568.6 122.7h0M570.0 122.4h0M571.6 122.3h0M573.6 122.7h0M574.0 122.6h0M577.9 122.7h0M581.8 122.6h0M584.4 122.7h0M584.8 122.4h0M561.1 123.2h0M563.3 122.9h0M562.7 123.2h0M563.9 123.1h0M566.8 123.1h0M566.8 123.1h0M571.5 123.0h0M571.5 122.8h0M581.9 122.8h0M581.4 123.2h0M587.0 123.2h0M554.1 123.3h0M562.1 123.4h0M565.5 123.6h0M565.7 123.6h0M566.6 123.5h0M570.3 123.4h0M576.1 123.4h0M578.5 123.5h0M582.4 123.7h0M556.5 124.0h0M560.8 124.0h0M566.5 124.1h0M570.6 124.2h0M571.5 123.8h0M577.5 124.0h0M565.9 124.4h0M573.1 124.7h0M578.3 124.4h0M582.4 124.5h0M565.1 124.9h0M566.3 125.2h0M569.2 125.0h0M571.0 124.9h0M573.4 124.8h0M574.4 125.0h0M578.0 125.1h0M564.1 125.6h0M564.8 125.7h0M567.7 125.7h0M570.9 125.6h0M570.4 125.5h0M575.8 125.3h0M584.0 125.7h0M560.5 126.0h0M565.9 126.1h0M567.0 126.2h0M569.1 126.0h0M569.4 126.2h0M570.8 126.2h0M572.8 126.0h0M575.4 125.9h0M584.8 126.2h0M588.7 125.8h0M589.4 125.9h0M562.3 126.7h0M563.8 126.3h0M565.0 126.4h0M565.5 126.5h0M568.8 126.7h0M569.2 126.4h0M569.3 126.7h0M577.8 126.5h0M585.6 126.5h0M588.2 126.7h0M563.1 126.8h0M564.9 127.1h0M565.3 127.2h0M566.1 126.8h0M565.5 127.0h0M570.3 127.2h0M571.5 127.0h0M571.7 126.8h0M573.7 127.1h0M573.4 126.8h0M579.4 127.1h0M581.1 127.1h0M587.9 127.1h0M568.2 127.7h0M571.3 127.7h0M571.7 127.3h0M571.5 127.5h0M574.3 127.3h0M573.5 127.6h0M575.4 127.3h0M578.9 127.5h0M582.4 127.5h0M567.0 128.1h0M567.7 128.1h0M567.7 127.8h0M571.1 127.8h0M576.7 128.2h0M578.7 127.8h0M579.4 128.0h0M560.3 128.6h0M561.7 128.3h0M562.3 128.6h0M565.3 128.6h0M569.0 128.4h0M579.7 128.5h0M582.5 128.7h0M563.7 128.9h0M563.4 129.2h0M569.0 128.8h0M569.6 129.2h0M572.4 129.0h0M575.4 129.0h0M576.3 129.2h0M578.5 129.2h0M579.6 128.9h0M580.2 128.8h0M584.8 129.1h0M587.2 129.1h0M560.0 129.4h0M563.5 129.3h0M566.6 129.5h0M569.3 129.6h0M569.7 129.6h0M572.5 129.5h0M577.8 129.3h0M579.8 129.7h0M581.1 129.5h0M583.8 129.4h0M588.6 129.7h0M590.5 129.4h0M566.2 130.1h0M570.2 130.1h0M571.3 130.2h0M574.7 129.9h0M575.6 129.8h0M576.1 130.1h0M581.2 130.0h0M581.2 130.2h0M588.3 130.1h0M589.5 130.0h0M564.9 130.4h0M566.1 130.6h0M566.8 130.7h0M566.9 130.4h0M566.6 130.6h0M568.1 130.4h0M567.3 130.5h0M568.6 130.7h0M568.3 130.3h0M569.5 130.5h0M570.5 130.4h0M577.9 130.3h0M578.7 130.6h0M582.1 130.7h0M586.9 130.6h0M587.4 130.4h0M558.8 130.9h0M563.4 131.2h0M569.6 131.0h0M575.3 131.0h0M576.7 130.9h0M576.9 131.0h0M578.2 130.8h0M578.9 131.1h0M580.3 130.9h0M581.1 131.2h0M585.3 131.2h0M587.8 131.2h0M571.9 131.3h0M572.2 131.6h0M572.4 131.3h0M573.4 131.6h0M573.5 131.3h0M574.4 131.7h0M576.5 131.6h0M579.6 131.5h0M580.8 131.3h0M584.7 131.3h0M587.2 131.7h0M591.3 131.7h0M560.9 132.1h0M569.0 132.2h0M578.4 132.2h0M587.5 132.0h0M560.6 132.6h0M570.6 132.7h0M574.4 132.5h0M576.6 132.4h0M580.6 132.4h0M582.8 132.7h0M585.7 132.3h0M588.0 132.7h0M563.4 133.0h0M564.6 132.8h0M565.7 132.9h0M573.3 132.8h0M578.1 132.8h0M578.3 133.0h0M579.7 133.2h0M580.4 133.1h0M580.3 133.2h0M581.8 133.0h0M582.3 132.8h0M583.5 133.2h0M585.7 132.8h0M589.8 132.9h0M562.4 133.5h0M566.0 133.7h0M566.9 133.3h0M568.6 133.5h0M570.2 133.5h0M571.6 133.5h0M571.7 133.6h0M574.9 133.3h0M576.6 133.5h0M577.3 133.5h0M577.9 133.3h0M579.7 133.6h0M582.5 133.7h0M561.2 133.9h0M565.8 134.1h0M573.1 134.1h0M573.9 134.2h0M578.4 133.9h0M578.0 133.8h0M581.1 133.9h0M568.2 134.5h0M573.0 134.5h0M573.3 134.6h0M573.8 134.3h0M576.7 134.4h0M576.0 134.4h0M577.6 134.3h0M581.7 134.5h0M590.6 134.3h0M569.5 135.2h0M570.8 135.1h0M572.5 135.0h0M575.1 135.0h0M575.2 135.0h0M578.0 134.9h0M588.0 134.9h0M569.6 135.7h0M572.9 135.7h0M573.3 135.7h0M581.3 135.7h0M583.1 135.7h0M589.9 135.5h0M566.8 135.9h0M573.3 136.1h0M575.1 135.9h0M576.4 136.0h0M582.4 135.8h0M583.1 135.9h0M584.2 136.2h0M586.3 135.8h0M563.6 136.4h0M575.7 136.5h0M578.4 136.5h0M581.1 136.4h0M580.1 136.6h0M582.3 136.4h0M584.2 136.3h0M563.8 136.8h0M573.2 137.0h0M574.3 137.1h0M573.7 137.2h0M578.7 137.2h0M587.4 137.1h0M562.3 137.3h0M564.5 137.6h0M565.0 137.4h0M566.2 137.3h0M568.0 137.7h0M570.7 137.7h0M572.1 137.6h0M574.6 137.6h0M581.7 137.3h0M582.9 137.5h0M582.6 137.6h0M587.2 137.3h0M587.0 137.3h0M589.4 137.6h0M564.3 137.8h0M565.4 137.9h0M568.7 138.2h0M572.6 138.1h0M574.7 138.2h0M576.6 138.0h0M579.3 138.1h0M579.4 138.1h0M583.0 137.9h0M588.6 137.8h0M588.8 137.8h0M590.8 137.9h0M593.2 137.9h0M562.3 138.3h0M564.2 138.5h0M571.3 138.3h0M572.3 138.3h0M574.6 138.6h0M574.1 138.4h0M575.5 138.4h0M575.8 138.6h0M587.4 138.5h0M573.0 139.0h0M573.4 138.9h0M575.5 139.1h0M577.7 138.8h0M577.2 139.1h0M583.1 139.1h0M585.5 138.9h0M586.1 139.2h0M593.2 139.2h0M564.6 139.3h0M569.3 139.4h0M576.5 139.6h0M578.7 139.5h0M580.2 139.6h0M580.0 139.7h0M583.4 139.7h0M569.9 140.0h0M570.8 140.1h0M573.2 140.0h0M575.3 140.1h0M582.6 139.8h0M585.8 140.0h0M565.9 140.6h0M568.1 140.3h0M572.0 140.4h0M577.8 140.6h0M578.6 140.3h0M581.2 140.7h0M583.1 140.4h0M583.6 140.5h0M583.3 140.5h0M584.4 140.5h0M592.6 140.5h0M565.0 141.0h0M568.2 140.9h0M572.0 141.0h0M572.5 141.1h0M572.8 141.1h0M573.5 141.2h0M574.5 140.8h0M578.5 141.2h0M579.2 140.9h0M580.6 141.1h0M580.4 140.8h0M580.4 140.9h0M582.2 140.8h0M584.0 141.0h0M584.4 140.9h0M585.6 140.8h0M591.3 140.9h0M593.1 141.2h0M566.8 141.6h0M568.2 141.7h0M570.8 141.5h0M583.4 141.5h0M587.2 141.4h0M589.0 141.6h0M571.0 141.9h0M574.4 142.1h0M575.5 141.8h0M576.1 142.0h0M576.3 141.8h0M578.1 142.0h0M581.7 141.9h0M585.2 141.8h0M572.3 142.5h0M572.3 142.6h0M574.4 142.4h0M574.5 142.4h0M580.6 142.5h0M583.2 142.3h0M584.1 142.7h0M585.6 142.5h0M589.1 142.6h0M573.8 142.8h0M573.7 142.8h0M575.1 142.9h0M577.9 143.0h0M577.9 143.1h0M580.1 143.0h0M582.8 143.1h0M585.4 143.0h0M588.9 142.8h0M589.3 143.2h0M591.6 143.2h0M591.1 142.8h0M564.7 143.4h0M567.8 143.7h0M568.7 143.5h0M574.4 143.3h0M574.9 143.6h0M579.4 143.4h0M581.9 143.6h0M583.4 143.6h0M585.2 143.6h0M591.2 143.6h0M566.8 143.8h0M583.5 143.9h0M587.3 144.0h0M587.0 143.9h0M587.1 144.1h0M586.7 143.9h0M592.6 143.8h0M572.7 144.4h0M574.0 144.6h0M573.8 144.5h0M575.1 144.7h0M576.5 144.3h0M577.4 144.6h0M578.2 144.6h0M581.6 144.7h0M584.1 144.3h0M584.8 144.4h0M584.7 144.3h0M586.6 144.4h0M589.7 144.7h0M590.3 144.4h0M569.5 144.9h0M575.5 145.0h0M578.2 145.1h0M582.6 144.8h0M587.6 144.9h0M569.6 145.4h0M578.6 145.5h0M579.4 145.5h0M589.3 145.7h0M590.7 145.5h0M594.7 145.5h0M570.1 146.1h0M573.1 146.2h0M574.8 146.2h0M579.4 146.0h0M586.4 146.1h0M588.2 146.2h0M589.1 146.2h0M590.4 145.9h0M571.0 146.6h0M576.1 146.5h0M575.9 146.7h0M581.0 146.6h0M582.7 146.5h0M584.6 146.7h0M587.2 146.6h0M589.5 146.7h0M590.6 146.5h0M573.3 147.0h0M573.7 146.9h0M579.2 147.2h0M578.7 147.2h0M580.9 146.8h0M583.2 146.8h0M589.9 146.8h0M590.4 147.1h0M594.5 146.9h0M570.3 147.6h0M575.1 147.6h0M576.6 147.6h0M576.2 147.3h0M579.6 147.5h0M583.5 147.6h0M589.1 147.4h0M566.3 148.0h0M569.4 147.8h0M574.4 148.1h0M575.4 148.0h0M582.5 147.8h0M583.6 148.0h0M582.8 148.1h0M585.3 148.2h0M586.1 148.2h0M588.8 148.2h0M589.3 148.1h0M590.5 148.2h0M570.3 148.7h0M586.1 148.7h0M588.1 148.5h0M594.7 148.7h0M567.1 148.9h0M582.8 148.9h0M584.0 149.2h0M595.2 149.2h0M575.3 149.4h0M576.5 149.3h0M579.4 149.5h0M579.2 149.5h0M580.8 149.4h0M580.5 149.5h0M580.9 149.5h0M581.7 149.3h0M582.5 149.4h0M593.9 149.6h0M576.0 150.0h0M577.1 149.8h0M578.0 150.0h0M583.6 150.1h0M588.0 149.8h0M592.2 149.9h0M596.2 150.2h0M570.8 150.6h0M571.4 150.5h0M572.3 150.7h0M577.0 150.3h0M579.8 150.7h0M584.2 150.3h0M594.4 150.5h0M576.8 150.9h0M582.0 151.2h0M581.8 151.1h0M584.1 151.2h0M587.8 151.1h0M590.2 150.9h0M575.3 151.5h0M576.1 151.5h0M578.7 151.5h0M581.4 151.3h0M582.1 151.6h0M584.1 151.6h0M584.1 151.4h0M589.3 151.3h0M588.8 151.5h0M574.6 151.9h0M580.7 151.9h0M580.9 152.2h0M581.7 152.2h0M581.1 151.8h0M582.3 152.2h0M588.3 151.9h0M574.7 152.4h0M575.3 152.6h0M576.7 152.4h0M576.2 152.4h0M587.9 152.5h0M591.5 152.3h0M594.7 152.6h0M568.5 152.9h0M573.3 153.0h0M576.9 153.2h0M580.3 152.8h0M581.4 153.0h0M582.2 152.9h0M582.6 152.9h0M583.8 153.2h0M584.2 153.2h0M587.3 152.9h0M587.8 153.1h0M593.6 153.2h0M594.0 153.1h0M575.6 153.3h0M576.3 153.7h0M580.7 153.6h0M584.0 153.4h0M584.0 153.6h0M585.1 153.6h0M589.7 153.6h0M593.3 153.7h0M593.3 153.6h0M574.5 154.0h0M581.0 154.0h0M582.4 154.1h0M583.7 153.9h0M586.9 154.2h0M590.6 154.0h0M590.5 154.1h0M591.4 154.0h0M570.4 154.4h0M583.9 154.3h0M591.7 154.6h0M583.9 155.0h0M591.2 154.8h0M582.9 155.5h0M583.5 155.3h0M585.2 155.4h0M587.0 155.5h0M592.9 155.7h0M593.6 155.7h0M578.4 156.2h0M579.3 155.9h0M581.2 156.1h0M582.1 155.9h0M585.5 155.9h0M586.0 156.0h0M590.1 156.0h0M595.0 155.9h0M571.3 156.3h0M575.7 156.3h0M577.3 156.4h0M578.2 156.3h0M583.4 156.6h0M584.0 156.5h0M586.0 156.4h0M582.0 156.9h0M590.7 157.1h0M570.8 157.4h0M570.7 157.4h0M577.9 157.7h0M578.5 157.7h0M584.1 157.3h0M579.4 157.9h0M579.8 157.8h0M583.4 157.8h0M585.0 158.2h0M589.0 157.8h0M592.3 157.8h0M592.6 158.0h0M595.9 158.2h0M581.9 158.5h0M585.3 158.4h0M593.4 158.5h0M595.1 158.7h0M598.0 158.6h0M573.3 159.0h0M572.6 158.8h0M573.6 159.2h0M581.0 159.0h0M582.5 158.8h0M583.1 159.2h0M585.3 159.0h0M586.1 159.1h0M586.2 158.9h0M590.9 159.1h0M593.4 158.9h0M594.1 158.9h0M599.3 159.1h0M581.8 159.5h0M585.3 159.4h0M587.4 159.5h0M591.1 159.7h0M593.0 159.7h0M593.5 159.7h0M595.2 159.5h0M599.3 159.4h0M575.1 160.1h0M581.8 159.9h0M582.0 160.2h0M584.1 160.0h0M591.0 160.2h0M593.5 160.2h0M597.5 160.0h0M573.0 160.5h0M575.0 160.4h0M580.7 160.6h0M582.0 160.5h0M587.6 160.3h0M588.2 160.3h0M591.6 160.5h0M591.2 160.4h0M595.4 160.6h0M596.5 160.5h0M596.1 160.6h0M581.8 160.8h0M581.8 161.2h0M588.3 161.0h0M590.4 161.1h0M591.3 160.9h0M579.8 161.6h0M579.5 161.3h0M581.9 161.5h0M581.2 161.3h0M586.5 161.7h0M573.9 162.0h0M580.9 161.8h0M581.0 162.1h0M585.9 162.0h0M592.4 162.2h0M594.3 162.0h0M595.1 162.0h0M595.9 162.0h0M587.3 162.3h0M588.2 162.5h0M582.8 163.2h0M590.3 162.9h0M594.0 163.0h0M599.3 163.0h0M581.8 163.4h0M584.3 163.5h0M588.1 163.3h0M589.9 163.7h0M590.9 163.7h0M580.1 164.0h0M582.3 164.1h0M582.9 164.2h0M585.6 164.1h0M590.5 163.9h0M576.8 164.4h0M579.3 164.7h0M581.9 164.6h0M583.1 164.6h0M592.0 164.7h0M596.7 164.3h0M582.4 165.2h0M583.7 164.8h0M596.7 164.8h0M596.4 164.9h0M579.8 165.4h0M583.4 165.7h0M590.4 165.3h0M598.3 165.7h0M583.3 166.0h0M583.4 166.2h0M583.5 165.8h0M584.8 165.9h0M584.5 165.8h0M591.2 166.2h0M594.2 165.9h0M598.0 166.2h0M588.8 166.7h0M588.4 166.6h0M590.2 166.5h0M590.8 166.5h0M591.7 166.5h0M592.3 166.3h0M580.7 166.8h0M593.4 166.8h0M578.1 167.4h0M583.4 167.5h0M594.2 167.7h0M578.1 168.1h0M588.5 167.9h0M589.2 167.8h0M590.6 167.8h0M580.1 168.4h0M580.1 168.5h0M588.4 168.3h0M579.9 168.9h0M579.4 168.9h0M590.7 169.1h0M596.6 169.2h0M582.9 169.7h0M584.6 169.7h0M585.7 169.5h0M580.8 169.8h0M592.7 170.2h0M587.8 170.3h0M588.7 170.7h0M591.6 170.6h0M583.8 171.1h0M584.4 171.2h0M588.0 170.9h0M593.0 170.9h0M592.2 171.1h0M586.6 171.5h0M589.1 171.5h0M591.4 171.7h0M587.7 171.9h0M596.8 172.1h0M597.1 172.6h0M584.8 172.9h0M585.8 173.2h0M589.8 173.0h0M591.2 173.2h0M581.3 173.4h0M582.7 173.4h0M585.0 173.3h0M590.0 173.5h0M583.7 173.9h0M584.9 174.1h0M593.8 174.2h0M587.6 175.1h0M597.0 174.8h0M583.7 175.7h0M589.8 175.5h0M591.3 175.6h0M586.3 176.1h0M587.4 176.0h0M589.0 175.8h0M591.2 176.0h0M596.1 176.1h0M584.5 176.4h0M593.3 176.4h0M595.8 176.5h0M587.2 177.7h0M587.7 177.4h0M589.0 178.2h0M590.1 177.8h0M593.3 178.1h0M593.8 178.2h0M586.7 179.3h0M589.5 179.5h0M589.8 180.1h0M585.8 180.8h0M590.8 181.2h0M587.0 181.5h0M593.7 181.7h0M588.2 182.6h0M594.5 182.7h0M482.6 81.9h0M519.0 62.0h0M568.6 59.4h0M587.0 189.0h0M586.0 202.0h0M505.0 91.0h0M600.0 162.0h0M124.0 84.0h0M146.6 91.4h0M168.6 63.4h0M188.0 81.6h0M231.5 132.0h0M224.8 126.6h0M222.2 136.0h0M203.5 167.8h0M202.3 204.4h0" stroke="#f4975f" stroke-width="2.8" stroke-linecap="round" fill="none"/><path d="M159.0 57.0L158.5 60.0L158.5 70.0L160.0 80.0L161.0 90.0L162.5 100.0L164.0 110.0L164.5 120.0L165.5 130.0L166.5 140.0L168.0 150.0L169.0 160.0L170.0 170.0L171.5 180.0L172.5 190.0L173.5 200.0L173.5 210.0L174.5 220.0L176.0 230.0L178.0 236.0L179.0 236.0L179.5 230.0L178.5 220.0L179.0 210.0L179.0 200.0L178.5 190.0L177.0 180.0L175.5 170.0L175.0 160.0L174.5 150.0L173.5 140.0L172.0 130.0L171.0 120.0L170.0 110.0L168.5 100.0L168.0 90.0L167.0 80.0L165.0 70.0L163.0 60.0L162.0 57.0ZM493.0 62.0L494.0 65.0L496.0 70.0L498.0 75.0L501.0 80.0L504.0 85.0L507.5 90.0L511.5 95.0L515.5 100.0L519.5 105.0L523.5 110.0L528.5 120.0L532.0 130.0L534.5 140.0L538.5 150.0L562.5 150.0L558.5 140.0L552.5 130.0L545.5 120.0L538.0 110.0L535.5 105.0L530.5 100.0L527.5 95.0L523.5 90.0L519.5 85.0L515.5 80.0L512.0 75.0L508.5 70.0L501.5 65.0L498.5 62.0Z" fill="#27b5d1"/><path d="M159.4 51.3h0M160.4 52.4h0M157.9 53.5h0M161.6 53.4h0M157.6 54.6h0M161.4 54.9h0M156.6 55.8h0M158.0 55.9h0M158.4 55.8h0M161.5 56.2h0M162.3 56.5h0M156.7 57.2h0M160.2 56.9h0M161.4 57.2h0M161.9 57.2h0M165.1 57.5h0M160.3 57.9h0M161.2 58.0h0M162.4 58.0h0M162.9 58.3h0M164.1 58.3h0M157.3 59.6h0M158.0 59.3h0M161.9 59.3h0M161.9 59.7h0M156.3 59.8h0M157.4 59.8h0M160.2 60.1h0M161.6 60.2h0M164.5 60.1h0M165.5 60.0h0M161.7 60.6h0M163.9 60.8h0M159.9 61.7h0M159.4 61.5h0M155.8 61.9h0M157.3 61.8h0M163.8 61.8h0M164.4 61.9h0M157.4 62.7h0M157.0 63.2h0M157.7 62.8h0M162.0 63.2h0M158.4 63.7h0M161.0 63.4h0M163.3 63.4h0M162.8 63.6h0M163.1 63.3h0M164.0 63.4h0M157.7 64.2h0M162.2 64.0h0M158.7 64.5h0M159.4 64.6h0M165.2 64.7h0M161.4 64.9h0M162.9 65.7h0M160.2 66.5h0M163.0 66.5h0M163.5 66.7h0M155.7 67.2h0M157.2 67.0h0M158.0 66.9h0M159.2 66.9h0M161.7 66.8h0M164.1 66.9h0M157.0 67.7h0M162.2 67.4h0M162.8 67.6h0M159.2 67.8h0M163.9 68.2h0M160.2 68.6h0M161.0 68.3h0M162.8 69.1h0M163.7 68.8h0M163.5 68.8h0M165.2 69.2h0M165.0 69.0h0M157.6 69.4h0M162.0 69.3h0M163.7 69.3h0M167.2 69.5h0M158.7 69.9h0M159.1 69.8h0M160.1 70.1h0M161.2 70.0h0M162.6 70.2h0M163.9 69.9h0M163.4 69.8h0M164.0 70.2h0M163.7 69.8h0M156.1 70.6h0M156.0 70.4h0M159.1 70.5h0M158.8 70.6h0M163.7 70.7h0M165.2 70.3h0M160.0 71.2h0M160.9 70.9h0M162.7 71.2h0M164.2 71.2h0M163.5 71.2h0M166.3 71.2h0M168.1 71.2h0M155.8 71.7h0M157.2 71.5h0M167.1 71.5h0M160.1 71.8h0M160.0 71.9h0M161.2 72.0h0M164.8 71.9h0M165.2 72.1h0M160.7 72.7h0M161.5 72.5h0M164.3 72.6h0M165.7 73.3h0M167.5 73.5h0M158.7 73.8h0M165.6 73.8h0M157.3 74.4h0M158.6 74.7h0M163.1 74.7h0M163.3 74.5h0M164.1 74.6h0M165.0 74.7h0M159.8 74.9h0M159.7 75.1h0M160.3 74.8h0M164.9 74.8h0M160.9 75.4h0M162.8 75.4h0M166.6 75.4h0M158.3 75.8h0M159.2 75.8h0M160.2 75.8h0M161.5 76.2h0M162.8 76.0h0M164.3 75.8h0M165.8 75.9h0M167.2 75.9h0M166.8 76.0h0M158.5 76.5h0M163.9 76.3h0M164.1 76.6h0M165.5 76.3h0M158.3 77.1h0M159.7 76.8h0M162.4 77.1h0M162.6 77.2h0M164.5 77.1h0M166.4 77.0h0M162.3 77.3h0M165.0 77.7h0M164.3 78.1h0M165.4 78.0h0M164.7 77.8h0M165.4 77.8h0M162.3 78.7h0M162.0 78.5h0M162.0 78.4h0M164.3 78.7h0M166.1 78.4h0M160.6 79.0h0M163.5 79.2h0M164.9 78.9h0M158.8 79.7h0M159.9 79.6h0M160.5 79.6h0M161.4 79.4h0M164.5 79.4h0M165.7 79.3h0M165.2 79.4h0M165.0 79.3h0M168.8 79.3h0M161.1 80.2h0M163.8 80.1h0M164.7 80.2h0M168.3 80.0h0M158.2 80.4h0M161.2 80.5h0M162.2 80.3h0M162.9 80.7h0M162.7 80.7h0M162.8 80.4h0M163.2 80.4h0M166.1 80.3h0M167.9 80.7h0M160.6 81.0h0M163.0 81.2h0M162.7 81.0h0M169.0 80.9h0M168.6 81.0h0M158.4 81.4h0M160.3 81.6h0M161.8 81.4h0M162.5 81.5h0M164.6 81.6h0M167.9 81.6h0M167.8 81.3h0M169.5 81.7h0M161.6 81.9h0M166.2 81.9h0M167.0 81.9h0M167.3 82.1h0M161.4 82.5h0M164.5 82.5h0M165.7 82.7h0M160.8 83.0h0M160.6 83.0h0M163.2 82.9h0M163.4 82.8h0M164.2 83.2h0M164.0 83.0h0M166.5 83.2h0M167.8 82.8h0M161.5 83.4h0M162.7 83.4h0M164.0 83.4h0M165.3 83.7h0M166.0 83.7h0M166.1 83.4h0M168.1 83.4h0M159.8 83.9h0M159.6 83.9h0M161.9 84.1h0M164.0 84.1h0M165.1 84.0h0M159.5 84.7h0M163.2 84.7h0M162.1 85.2h0M162.9 84.9h0M161.8 85.7h0M170.4 85.4h0M158.2 85.9h0M160.7 85.8h0M161.0 86.2h0M160.8 85.9h0M163.9 86.2h0M167.0 85.8h0M169.0 85.9h0M161.1 86.6h0M162.0 86.5h0M164.2 86.6h0M165.2 86.7h0M166.2 86.7h0M160.7 86.8h0M165.9 87.2h0M167.7 87.1h0M167.1 87.0h0M167.8 86.8h0M159.0 87.3h0M164.8 87.6h0M166.2 87.3h0M160.6 87.8h0M161.5 88.2h0M161.9 87.9h0M163.9 88.1h0M165.5 88.0h0M167.8 87.8h0M170.6 88.1h0M161.9 88.6h0M163.6 88.6h0M166.5 88.7h0M159.3 89.0h0M166.4 89.2h0M166.0 89.5h0M166.9 89.5h0M160.1 90.1h0M161.5 90.0h0M161.9 90.2h0M162.8 90.2h0M170.0 90.2h0M158.7 90.7h0M163.0 90.7h0M165.7 90.4h0M167.5 90.7h0M170.2 90.5h0M158.4 90.9h0M161.6 91.1h0M162.4 91.0h0M164.0 91.1h0M164.2 90.8h0M166.7 91.2h0M166.3 90.8h0M168.6 91.6h0M170.4 91.5h0M164.2 92.2h0M168.8 92.0h0M169.1 92.2h0M160.2 92.3h0M160.6 92.6h0M167.2 92.6h0M166.5 92.4h0M159.2 93.0h0M164.2 93.0h0M164.6 93.2h0M166.8 92.9h0M166.8 92.9h0M169.3 93.0h0M169.9 93.1h0M160.6 93.3h0M161.8 93.5h0M164.0 93.4h0M164.9 93.5h0M165.0 93.3h0M165.3 93.6h0M170.7 93.5h0M170.4 93.7h0M161.6 93.8h0M166.3 93.9h0M163.7 94.6h0M159.9 95.0h0M161.8 95.1h0M165.5 95.0h0M165.7 95.0h0M168.3 95.0h0M169.3 94.9h0M168.3 95.6h0M168.4 95.5h0M169.2 95.4h0M160.7 96.1h0M167.4 95.9h0M166.6 96.0h0M162.2 96.3h0M165.4 96.6h0M167.6 96.3h0M162.5 97.2h0M171.3 97.0h0M160.1 97.4h0M166.3 97.4h0M167.2 97.6h0M169.3 97.6h0M168.6 97.5h0M164.2 97.9h0M166.7 98.2h0M166.5 98.1h0M166.8 98.2h0M163.2 98.4h0M164.1 98.5h0M165.4 98.5h0M168.3 98.6h0M162.4 99.2h0M163.6 99.0h0M164.0 98.8h0M160.5 99.3h0M161.0 99.3h0M167.4 99.4h0M168.5 99.4h0M170.2 100.0h0M160.3 100.6h0M165.0 100.7h0M164.7 100.6h0M167.8 100.7h0M161.8 101.2h0M163.7 100.8h0M170.4 101.1h0M166.8 101.7h0M168.7 101.4h0M163.1 102.2h0M165.0 102.2h0M168.6 102.1h0M171.5 101.8h0M161.4 103.2h0M167.5 103.1h0M170.7 102.8h0M167.7 103.6h0M168.7 103.7h0M169.5 103.7h0M165.1 103.9h0M165.3 104.0h0M165.0 104.2h0M169.7 104.1h0M162.0 104.4h0M163.8 104.4h0M168.3 104.5h0M170.9 104.4h0M162.8 105.1h0M161.6 105.4h0M164.9 105.7h0M165.3 105.7h0M167.6 105.7h0M172.5 105.7h0M163.0 105.9h0M162.8 105.9h0M164.7 106.1h0M166.4 105.9h0M168.9 106.2h0M169.3 105.8h0M164.6 106.7h0M165.4 106.5h0M166.3 106.7h0M168.4 106.5h0M169.8 106.4h0M169.2 106.4h0M164.3 107.0h0M165.8 106.8h0M167.6 107.0h0M168.5 107.2h0M161.5 107.6h0M163.3 107.4h0M165.9 107.5h0M170.9 107.3h0M172.6 107.5h0M163.6 107.8h0M166.0 107.9h0M167.7 107.8h0M164.4 108.3h0M165.3 108.4h0M165.3 108.4h0M167.4 108.3h0M163.3 108.9h0M162.8 109.2h0M164.1 109.2h0M166.1 108.9h0M166.3 108.8h0M163.3 109.5h0M164.7 109.5h0M165.3 109.7h0M167.2 109.7h0M167.2 109.5h0M168.5 109.6h0M169.6 109.7h0M171.5 109.7h0M164.5 110.0h0M165.6 110.2h0M167.7 110.2h0M162.8 110.3h0M164.8 110.6h0M165.5 110.7h0M165.6 110.7h0M164.5 111.2h0M164.1 110.9h0M167.2 110.9h0M168.5 111.0h0M169.9 110.8h0M163.1 111.5h0M164.7 111.6h0M166.0 111.3h0M166.7 111.6h0M167.9 111.6h0M169.5 111.7h0M170.2 111.7h0M171.2 111.7h0M171.5 111.5h0M162.2 112.1h0M167.6 112.1h0M167.6 112.1h0M168.6 111.8h0M171.9 111.9h0M162.2 112.3h0M166.4 112.7h0M166.5 112.7h0M167.7 112.5h0M165.9 113.0h0M165.5 113.2h0M165.7 113.1h0M167.6 113.0h0M168.6 112.9h0M168.5 113.1h0M169.6 113.2h0M164.5 113.7h0M164.2 113.5h0M166.0 113.6h0M165.2 113.7h0M163.4 114.0h0M165.6 113.9h0M165.5 114.0h0M168.8 114.0h0M168.4 113.9h0M170.7 114.1h0M168.0 114.5h0M172.4 114.7h0M163.4 115.2h0M166.4 114.8h0M166.5 114.8h0M166.7 115.1h0M166.9 115.0h0M170.1 115.0h0M162.1 115.5h0M164.9 115.4h0M167.6 115.7h0M169.5 115.3h0M170.4 115.5h0M162.4 115.9h0M163.2 116.2h0M162.9 116.2h0M163.6 115.9h0M164.8 116.5h0M167.0 116.7h0M167.8 116.3h0M168.9 117.2h0M170.5 116.9h0M171.2 116.9h0M168.9 117.4h0M169.1 117.3h0M169.0 117.5h0M171.8 117.4h0M162.5 118.0h0M166.2 118.5h0M169.3 118.5h0M169.6 118.5h0M170.4 118.6h0M172.6 118.6h0M162.6 119.1h0M166.2 119.1h0M161.6 119.5h0M164.4 119.3h0M167.3 119.7h0M166.3 120.1h0M166.9 120.0h0M162.6 120.3h0M164.3 120.7h0M164.4 120.4h0M166.9 120.6h0M167.4 120.5h0M168.5 120.7h0M163.8 121.2h0M167.6 121.1h0M174.1 120.9h0M167.4 121.3h0M168.4 121.6h0M169.4 121.6h0M170.0 121.6h0M167.8 122.1h0M170.7 122.0h0M171.6 122.1h0M173.3 122.2h0M163.0 122.7h0M168.0 122.6h0M170.5 122.6h0M171.9 122.7h0M172.6 122.3h0M169.2 123.2h0M163.7 123.6h0M163.0 123.3h0M163.1 123.7h0M168.6 123.3h0M170.1 123.9h0M170.9 124.0h0M164.0 124.3h0M165.5 124.3h0M165.0 124.4h0M166.5 124.4h0M167.4 124.3h0M167.9 124.3h0M171.2 124.7h0M172.1 124.5h0M171.7 124.4h0M162.7 124.9h0M165.0 124.9h0M167.1 125.2h0M167.3 125.2h0M168.4 125.2h0M171.4 124.8h0M173.2 125.2h0M166.3 125.5h0M168.6 125.7h0M170.2 125.5h0M168.2 126.1h0M168.9 125.9h0M166.5 126.3h0M169.9 126.6h0M172.4 126.7h0M166.3 127.0h0M170.0 126.9h0M171.5 126.8h0M170.9 126.8h0M163.6 127.3h0M165.9 127.6h0M166.1 127.6h0M170.2 127.5h0M170.8 127.4h0M171.7 127.7h0M171.9 127.6h0M172.0 127.5h0M175.2 127.3h0M163.6 128.2h0M165.6 127.8h0M167.4 127.8h0M169.6 128.0h0M169.1 128.2h0M170.6 128.1h0M170.1 127.8h0M175.1 128.0h0M166.2 128.5h0M165.1 129.0h0M169.1 129.1h0M168.2 128.9h0M171.7 128.9h0M163.1 129.4h0M166.5 129.6h0M167.0 129.3h0M172.2 129.6h0M163.2 129.8h0M164.2 129.8h0M165.6 130.2h0M162.9 130.3h0M164.6 130.6h0M166.0 130.5h0M170.5 130.7h0M174.2 130.5h0M164.8 131.2h0M168.6 130.8h0M169.3 130.8h0M168.9 130.9h0M169.6 131.2h0M170.7 130.9h0M164.1 131.3h0M167.0 131.6h0M170.7 131.7h0M168.0 131.8h0M170.3 132.2h0M171.3 132.2h0M171.6 132.1h0M171.8 132.2h0M173.0 131.8h0M170.0 132.3h0M170.9 132.5h0M171.1 132.4h0M170.8 132.6h0M171.5 132.4h0M175.1 132.6h0M168.4 132.8h0M169.7 132.8h0M171.4 132.9h0M165.9 133.4h0M169.2 133.7h0M171.6 133.5h0M171.4 133.7h0M169.7 133.9h0M169.0 134.2h0M170.7 133.8h0M173.6 134.2h0M163.3 134.4h0M166.4 134.4h0M171.2 134.7h0M175.4 134.6h0M167.8 134.9h0M168.7 134.8h0M168.9 135.1h0M172.9 135.1h0M168.9 135.5h0M169.8 135.5h0M170.9 135.7h0M172.2 135.7h0M172.1 135.7h0M172.1 135.6h0M175.1 135.5h0M172.0 136.1h0M173.8 135.9h0M166.5 136.7h0M170.3 136.6h0M172.5 136.6h0M167.0 137.2h0M168.7 137.1h0M168.8 136.9h0M170.3 136.8h0M167.2 137.6h0M170.2 137.3h0M174.1 137.5h0M174.5 137.7h0M169.0 137.9h0M170.8 138.1h0M170.8 137.8h0M172.4 138.2h0M173.4 138.1h0M174.7 137.9h0M175.1 138.0h0M163.8 138.4h0M165.9 138.7h0M165.1 139.1h0M167.7 139.1h0M171.0 138.8h0M171.0 139.1h0M164.4 139.7h0M169.6 140.2h0M170.1 139.9h0M170.4 139.8h0M170.2 140.3h0M176.6 140.4h0M174.5 140.9h0M169.9 141.3h0M171.1 141.5h0M172.3 141.6h0M172.6 141.5h0M173.1 141.4h0M165.4 141.8h0M166.2 142.2h0M165.2 142.9h0M168.0 143.1h0M173.6 142.8h0M174.2 143.0h0M176.4 143.1h0M176.9 143.0h0M170.2 143.7h0M169.4 143.3h0M169.7 143.5h0M171.7 143.4h0M171.3 143.7h0M173.4 143.4h0M173.8 143.7h0M175.4 143.6h0M166.0 144.2h0M167.4 144.1h0M168.7 143.8h0M171.0 144.1h0M171.0 144.1h0M174.0 144.0h0M174.3 144.2h0M173.8 144.6h0M175.5 144.4h0M165.6 144.8h0M169.6 145.1h0M173.9 144.8h0M173.5 144.8h0M170.7 145.4h0M174.9 145.5h0M174.9 145.7h0M176.1 145.6h0M173.5 146.1h0M170.7 146.5h0M172.1 146.5h0M171.8 146.7h0M169.0 146.9h0M173.1 146.9h0M174.2 147.2h0M175.6 147.4h0M167.4 147.9h0M168.3 148.0h0M173.4 147.9h0M172.8 147.9h0M175.2 148.1h0M174.6 147.9h0M166.1 148.6h0M169.8 148.7h0M173.0 148.7h0M175.4 148.5h0M170.6 149.0h0M170.4 149.2h0M171.6 148.8h0M172.5 149.0h0M172.5 148.9h0M177.5 149.0h0M167.3 149.3h0M175.6 149.6h0M176.4 149.5h0M166.2 150.1h0M167.0 150.2h0M169.5 150.1h0M171.1 150.0h0M172.9 149.8h0M168.0 150.6h0M170.1 150.7h0M170.3 150.6h0M172.6 150.7h0M174.5 150.7h0M177.5 150.3h0M178.6 150.6h0M169.1 151.2h0M169.9 150.8h0M170.6 151.1h0M173.8 150.8h0M173.1 150.9h0M176.0 150.8h0M168.6 151.7h0M173.2 151.5h0M174.5 151.3h0M175.6 151.4h0M177.4 151.5h0M165.8 152.2h0M170.9 152.0h0M172.9 152.2h0M173.6 152.1h0M174.0 151.8h0M173.6 151.8h0M176.4 152.1h0M169.6 152.5h0M169.4 152.4h0M171.0 152.7h0M171.1 152.3h0M174.4 152.5h0M171.0 152.8h0M172.9 152.8h0M175.8 153.2h0M168.6 153.3h0M170.6 153.5h0M170.6 153.6h0M171.8 153.5h0M172.6 153.6h0M172.7 153.3h0M174.1 153.4h0M174.6 153.3h0M168.1 153.9h0M171.4 154.1h0M174.5 153.9h0M174.6 153.8h0M166.3 154.7h0M169.5 154.7h0M171.0 154.7h0M168.5 154.8h0M169.1 155.0h0M174.5 154.9h0M175.0 155.1h0M167.2 155.6h0M173.2 155.5h0M168.7 155.8h0M168.4 155.9h0M170.3 155.8h0M170.4 156.0h0M174.0 155.8h0M175.4 156.2h0M169.4 156.7h0M171.2 156.3h0M173.1 156.6h0M173.1 156.7h0M176.4 156.7h0M172.4 156.8h0M174.7 157.1h0M170.1 157.4h0M168.4 158.0h0M177.9 157.8h0M167.4 158.3h0M170.0 158.4h0M175.9 158.6h0M168.0 159.0h0M171.2 158.8h0M172.4 159.2h0M173.7 159.0h0M170.6 160.1h0M173.4 160.1h0M172.2 160.4h0M170.5 160.9h0M172.8 160.9h0M174.3 161.0h0M175.3 161.1h0M174.5 161.7h0M176.1 161.4h0M176.7 161.3h0M169.4 161.8h0M174.9 162.2h0M171.3 162.4h0M175.5 163.0h0M178.6 162.8h0M173.9 163.5h0M169.0 163.8h0M173.7 164.1h0M174.9 163.8h0M171.6 164.7h0M172.1 164.4h0M171.9 164.3h0M174.8 164.6h0M167.2 164.8h0M171.6 164.8h0M172.6 165.2h0M173.4 165.0h0M168.1 165.6h0M171.3 165.6h0M172.1 165.4h0M173.2 165.6h0M170.2 165.8h0M173.3 166.2h0M168.0 166.5h0M173.8 166.4h0M174.4 166.3h0M174.7 166.7h0M176.6 166.3h0M169.1 167.2h0M170.5 166.8h0M171.7 167.1h0M172.5 167.2h0M175.3 167.2h0M178.1 166.8h0M178.6 167.2h0M168.1 167.6h0M169.2 167.7h0M172.3 167.7h0M174.1 167.3h0M176.9 167.3h0M169.8 168.0h0M172.4 168.0h0M172.2 167.9h0M176.0 167.9h0M174.5 168.6h0M171.5 169.2h0M173.3 169.0h0M171.2 169.7h0M171.0 169.4h0M172.4 169.6h0M173.4 169.7h0M173.6 169.7h0M168.3 170.1h0M170.6 169.8h0M171.9 170.1h0M173.7 169.9h0M175.6 170.1h0M168.5 170.7h0M170.7 170.3h0M173.8 170.5h0M175.6 170.5h0M175.3 170.3h0M175.7 170.4h0M168.6 171.1h0M171.2 170.9h0M171.6 170.8h0M174.1 171.2h0M176.8 170.9h0M173.3 171.3h0M173.0 171.4h0M171.4 171.9h0M172.4 172.1h0M171.6 172.1h0M171.8 172.2h0M172.9 172.1h0M177.4 172.4h0M170.2 172.9h0M174.3 172.9h0M175.6 173.2h0M176.3 173.2h0M170.4 173.7h0M172.5 173.4h0M174.7 173.6h0M177.4 173.6h0M177.5 173.5h0M178.9 173.5h0M169.6 174.4h0M168.9 174.5h0M171.1 174.3h0M175.4 174.7h0M171.5 175.1h0M172.4 175.0h0M174.1 175.1h0M174.6 174.8h0M176.5 174.8h0M174.6 175.3h0M175.8 175.3h0M173.9 176.0h0M174.3 176.2h0M175.8 176.2h0M178.9 176.5h0M171.2 177.1h0M177.1 176.9h0M171.9 177.3h0M173.4 177.5h0M174.5 177.5h0M168.3 178.1h0M172.5 177.9h0M173.9 177.9h0M175.6 178.1h0M176.1 178.0h0M177.0 177.8h0M179.1 177.8h0M178.3 178.0h0M172.2 178.5h0M176.9 178.6h0M176.3 178.9h0M175.5 178.8h0M177.1 179.0h0M178.4 179.0h0M169.8 179.7h0M173.5 179.6h0M175.2 179.6h0M177.4 179.6h0M171.3 179.8h0M175.3 180.2h0M172.7 180.3h0M173.2 180.6h0M174.0 180.5h0M174.9 180.7h0M175.9 180.5h0M178.4 180.7h0M179.8 180.7h0M172.7 180.8h0M175.3 181.2h0M179.7 181.2h0M169.5 181.6h0M170.2 181.5h0M172.1 181.6h0M174.4 181.6h0M177.9 181.6h0M178.7 181.3h0M169.4 181.9h0M170.2 182.2h0M171.8 181.8h0M175.0 181.8h0M175.1 182.2h0M177.0 182.2h0M173.7 182.6h0M173.7 182.4h0M170.0 183.2h0M171.0 182.8h0M172.1 183.1h0M173.3 183.2h0M173.7 183.0h0M175.4 183.0h0M176.2 183.7h0M172.5 184.1h0M175.1 183.9h0M176.2 183.8h0M177.8 183.8h0M180.1 184.0h0M171.6 184.3h0M171.2 184.9h0M174.7 184.8h0M174.1 184.9h0M175.7 185.7h0M170.3 186.2h0M171.9 185.8h0M174.9 186.6h0M176.9 186.7h0M169.2 187.2h0M174.4 187.2h0M175.0 187.0h0M176.4 187.0h0M169.4 187.4h0M178.2 187.3h0M178.8 187.3h0M171.9 188.0h0M172.0 188.2h0M175.3 187.9h0M175.4 188.2h0M178.2 188.0h0M171.6 188.4h0M172.4 188.3h0M173.5 188.4h0M175.2 188.5h0M175.4 188.3h0M176.7 188.5h0M178.9 189.1h0M179.1 189.3h0M172.2 189.9h0M172.8 190.0h0M176.9 190.2h0M177.8 189.8h0M172.4 190.6h0M176.1 190.5h0M179.0 190.5h0M175.1 191.0h0M175.3 190.8h0M180.1 191.0h0M173.4 191.7h0M174.5 191.5h0M170.6 192.2h0M176.9 192.1h0M176.6 192.2h0M180.2 191.9h0M171.9 192.3h0M172.5 192.7h0M175.6 192.6h0M177.8 192.3h0M180.5 192.4h0M177.5 193.2h0M178.1 192.9h0M179.2 193.0h0M179.9 193.2h0M174.5 193.7h0M175.5 193.7h0M176.5 193.5h0M171.5 194.1h0M174.6 194.3h0M175.2 194.5h0M171.1 195.1h0M171.4 195.1h0M176.0 195.0h0M176.3 195.0h0M174.7 195.5h0M175.4 195.7h0M178.9 195.5h0M179.9 195.3h0M172.6 195.8h0M177.2 196.0h0M181.3 195.8h0M170.4 196.7h0M171.1 196.6h0M174.0 196.5h0M177.7 196.7h0M177.9 196.7h0M177.0 196.6h0M172.7 196.8h0M175.5 197.7h0M177.5 197.7h0M179.6 197.6h0M171.9 197.9h0M171.7 198.2h0M173.2 198.0h0M177.0 198.2h0M180.9 198.0h0M171.9 198.4h0M176.9 198.3h0M173.2 198.9h0M174.7 198.8h0M177.0 199.0h0M178.9 198.8h0M178.7 199.0h0M181.6 199.0h0M170.9 199.4h0M171.5 199.3h0M174.5 199.7h0M174.5 199.3h0M174.1 200.1h0M176.8 199.8h0M176.5 199.8h0M177.8 199.8h0M172.5 200.6h0M174.6 200.7h0M175.7 200.3h0M179.6 200.4h0M179.9 200.7h0M181.7 200.6h0M172.9 201.2h0M173.2 201.1h0M173.1 201.1h0M174.7 201.2h0M175.3 200.8h0M176.8 200.9h0M171.0 201.3h0M170.5 201.7h0M171.5 201.4h0M172.5 201.4h0M173.5 201.5h0M178.1 201.3h0M170.8 201.9h0M175.1 202.1h0M174.4 202.0h0M180.2 202.2h0M176.3 202.6h0M178.7 202.4h0M178.6 202.5h0M172.5 203.0h0M175.8 203.2h0M177.0 202.8h0M177.6 203.0h0M172.6 203.4h0M172.7 203.8h0M175.3 204.1h0M179.4 204.2h0M174.0 204.5h0M175.0 204.7h0M176.1 204.6h0M177.0 204.7h0M176.3 204.6h0M176.4 204.6h0M177.8 205.2h0M173.2 205.3h0M176.2 205.4h0M177.8 205.7h0M178.4 205.4h0M178.5 205.4h0M180.8 205.5h0M176.0 206.2h0M176.0 205.8h0M171.7 206.5h0M175.6 206.6h0M179.7 206.3h0M179.5 206.4h0M172.3 207.1h0M176.1 207.2h0M177.1 206.9h0M176.4 207.1h0M178.8 207.0h0M173.7 208.0h0M174.5 208.0h0M175.4 208.1h0M179.4 208.2h0M175.9 208.7h0M175.9 208.4h0M176.8 208.4h0M178.6 208.6h0M171.3 209.2h0M180.5 209.1h0M174.4 209.5h0M176.8 209.6h0M173.5 210.2h0M175.9 210.0h0M180.9 209.8h0M180.9 209.9h0M181.5 210.1h0M177.0 210.6h0M178.2 210.3h0M173.9 211.0h0M175.6 211.1h0M178.3 210.9h0M179.2 211.0h0M171.6 211.3h0M174.0 211.5h0M177.5 211.7h0M178.7 211.4h0M179.6 211.6h0M181.6 211.4h0M173.3 212.2h0M175.1 212.3h0M175.9 212.5h0M180.3 212.6h0M181.1 212.5h0M172.8 213.1h0M173.9 213.1h0M175.0 212.9h0M176.1 213.2h0M175.5 213.0h0M179.9 212.8h0M171.7 213.6h0M175.4 213.4h0M176.8 213.4h0M177.8 213.3h0M178.7 213.4h0M173.1 213.9h0M173.5 214.1h0M174.8 213.9h0M175.3 214.2h0M176.9 214.0h0M178.0 213.9h0M180.6 213.8h0M181.3 213.9h0M181.2 214.0h0M171.1 214.3h0M174.8 214.3h0M178.1 214.3h0M171.9 214.9h0M174.3 214.8h0M175.7 214.9h0M178.8 214.8h0M179.3 215.0h0M173.2 215.3h0M173.7 215.4h0M173.9 215.5h0M177.2 215.4h0M178.2 215.7h0M178.4 215.5h0M174.0 216.2h0M176.3 216.1h0M172.1 216.3h0M174.1 216.7h0M176.5 216.3h0M179.6 216.7h0M178.9 216.5h0M179.1 216.7h0M176.2 216.8h0M176.8 217.2h0M179.0 217.2h0M180.3 217.1h0M172.5 217.5h0M180.3 217.5h0M176.8 218.1h0M176.7 218.2h0M178.9 218.2h0M177.2 218.5h0M177.9 218.3h0M172.7 219.6h0M173.3 219.7h0M174.9 219.3h0M175.1 219.4h0M176.2 219.5h0M173.2 220.1h0M174.5 220.1h0M176.7 219.9h0M177.1 220.2h0M178.8 220.0h0M175.8 220.7h0M181.6 220.5h0M175.5 220.8h0M175.7 220.9h0M176.4 221.0h0M178.5 221.2h0M178.9 221.2h0M177.0 221.3h0M179.8 221.4h0M172.7 222.1h0M176.2 222.1h0M176.3 222.2h0M177.2 222.0h0M177.2 222.2h0M177.4 222.1h0M177.2 222.4h0M178.6 222.3h0M177.6 222.9h0M179.6 222.9h0M181.5 222.9h0M176.7 223.6h0M177.4 223.3h0M178.1 223.3h0M174.6 223.8h0M178.3 224.1h0M179.5 224.0h0M177.5 224.7h0M178.6 224.3h0M174.0 225.2h0M174.5 224.9h0M177.7 225.7h0M175.7 226.2h0M177.6 226.0h0M174.8 226.5h0M178.3 226.7h0M180.9 226.5h0M173.8 227.2h0M175.9 226.9h0M177.7 226.9h0M178.3 226.8h0M182.1 226.9h0M173.1 227.7h0M176.7 227.7h0M181.0 227.3h0M177.2 228.1h0M180.9 227.8h0M172.8 228.7h0M173.8 228.3h0M176.3 228.4h0M175.7 229.1h0M179.6 229.0h0M179.8 228.9h0M178.7 229.6h0M174.9 229.9h0M178.3 229.8h0M178.1 230.1h0M174.6 230.4h0M176.7 230.7h0M180.4 230.9h0M175.0 231.4h0M177.0 231.4h0M178.5 231.6h0M176.5 232.1h0M177.8 232.1h0M179.3 231.8h0M176.9 232.7h0M177.6 232.7h0M175.6 232.9h0M178.6 233.0h0M179.6 233.1h0M176.4 233.5h0M178.1 233.8h0M179.4 233.9h0M178.9 235.1h0M178.6 235.3h0M175.0 236.1h0M178.7 235.8h0M178.1 236.3h0M178.3 237.0h0M176.2 237.7h0M176.9 237.7h0M177.2 237.4h0M179.3 237.6h0M179.4 237.6h0M178.4 238.1h0M179.5 237.8h0M177.8 238.6h0M179.5 238.4h0M179.3 238.7h0M178.1 238.8h0M179.3 240.1h0M502.5 54.7h0M493.3 57.2h0M498.1 57.4h0M497.1 57.8h0M488.9 58.8h0M494.4 59.1h0M495.8 58.9h0M502.0 59.2h0M492.5 59.3h0M491.5 59.9h0M492.2 60.2h0M492.0 59.9h0M498.7 60.0h0M501.8 59.8h0M493.8 60.6h0M494.7 60.5h0M496.4 60.6h0M497.7 60.8h0M500.6 61.0h0M501.2 61.5h0M491.3 61.9h0M498.6 62.2h0M501.6 61.9h0M501.7 62.1h0M489.8 62.6h0M496.8 62.4h0M500.2 62.6h0M504.7 62.3h0M503.9 63.2h0M490.9 63.3h0M495.1 63.6h0M497.3 63.6h0M497.8 64.0h0M499.8 64.1h0M499.9 63.8h0M499.3 64.0h0M503.2 64.1h0M496.0 64.6h0M497.0 64.3h0M498.8 64.4h0M498.7 64.3h0M505.3 64.3h0M495.7 65.0h0M496.9 65.1h0M499.4 64.8h0M503.1 65.2h0M492.5 65.7h0M495.6 65.3h0M497.4 65.4h0M499.8 65.4h0M502.7 65.3h0M504.9 65.5h0M495.6 65.9h0M496.9 65.8h0M498.0 65.8h0M503.8 65.9h0M507.2 65.8h0M497.8 66.3h0M498.0 66.3h0M508.5 66.4h0M494.3 67.1h0M496.9 67.0h0M498.2 67.0h0M499.2 67.2h0M502.8 66.8h0M502.5 67.1h0M503.9 67.1h0M505.1 67.0h0M509.4 67.2h0M497.7 67.3h0M499.4 67.3h0M498.8 67.9h0M499.7 68.0h0M497.3 68.5h0M497.3 68.3h0M498.7 68.3h0M501.4 68.7h0M502.7 68.6h0M504.2 68.7h0M505.8 68.3h0M509.2 68.6h0M496.2 68.8h0M497.3 68.9h0M497.8 68.9h0M500.3 68.8h0M500.0 68.8h0M502.9 69.1h0M507.4 68.9h0M499.6 69.3h0M497.7 69.8h0M498.4 70.2h0M502.0 69.8h0M502.8 70.1h0M508.7 70.2h0M496.2 70.6h0M503.5 70.5h0M506.4 70.6h0M510.6 70.7h0M496.8 70.8h0M500.2 70.8h0M506.8 70.9h0M507.7 71.2h0M507.9 71.1h0M509.6 71.0h0M499.7 71.4h0M508.0 71.5h0M495.5 72.0h0M498.5 71.9h0M500.2 72.1h0M504.5 71.8h0M503.8 71.9h0M504.7 71.8h0M505.6 72.1h0M505.7 71.8h0M508.4 72.0h0M512.5 72.2h0M499.1 72.7h0M500.4 72.3h0M500.9 72.4h0M500.3 72.7h0M501.8 72.7h0M502.3 72.3h0M502.8 72.6h0M506.3 72.4h0M506.3 72.6h0M508.5 72.5h0M504.8 72.9h0M506.5 73.1h0M508.1 72.8h0M507.3 72.8h0M510.8 73.2h0M510.3 72.9h0M500.7 73.7h0M501.9 73.4h0M514.1 73.6h0M500.1 73.8h0M500.9 74.2h0M502.9 74.2h0M502.6 74.0h0M503.8 74.1h0M505.4 73.8h0M508.3 74.2h0M510.6 74.0h0M513.8 74.2h0M496.8 74.4h0M498.5 74.5h0M502.4 74.4h0M503.0 74.6h0M502.3 74.7h0M504.5 74.7h0M507.5 74.6h0M514.2 74.4h0M501.7 75.2h0M502.0 75.1h0M503.9 74.9h0M496.5 75.5h0M497.6 75.7h0M500.9 75.7h0M501.9 75.7h0M501.9 75.7h0M503.9 75.4h0M506.1 75.5h0M506.8 75.4h0M509.7 75.7h0M509.7 75.3h0M503.6 76.2h0M512.0 76.1h0M514.4 76.1h0M505.8 76.4h0M505.9 76.3h0M510.4 76.6h0M516.2 76.7h0M501.0 77.0h0M506.0 77.1h0M506.3 77.1h0M510.1 76.8h0M501.3 77.3h0M501.9 77.4h0M508.9 77.5h0M502.9 78.1h0M502.5 77.8h0M506.4 78.1h0M503.7 78.5h0M504.7 78.5h0M504.5 78.7h0M508.1 78.3h0M509.1 78.5h0M510.9 78.3h0M513.1 78.4h0M514.6 78.7h0M514.8 78.6h0M499.5 78.9h0M503.4 79.1h0M504.1 79.1h0M506.5 79.0h0M508.5 79.1h0M509.1 79.0h0M508.9 78.8h0M510.2 78.9h0M510.9 79.0h0M511.0 78.9h0M504.1 79.7h0M507.5 79.5h0M507.2 79.7h0M509.8 79.7h0M511.2 79.6h0M514.0 79.4h0M502.6 80.2h0M503.5 80.1h0M506.2 80.1h0M507.8 79.9h0M507.5 80.0h0M507.1 79.9h0M508.6 80.1h0M509.6 80.1h0M512.4 80.2h0M515.8 80.1h0M516.7 79.9h0M516.5 80.2h0M513.2 80.4h0M514.7 80.7h0M517.3 80.3h0M517.9 80.5h0M502.0 81.1h0M501.8 81.2h0M505.1 80.9h0M506.3 81.2h0M505.9 80.8h0M510.7 80.8h0M513.8 80.9h0M516.7 81.0h0M516.3 81.0h0M518.1 81.0h0M501.1 81.7h0M504.3 81.7h0M506.5 81.5h0M511.5 81.6h0M514.3 81.6h0M517.1 81.5h0M516.8 81.4h0M504.3 82.0h0M506.9 82.1h0M507.4 82.0h0M508.5 81.8h0M513.1 82.0h0M502.2 82.6h0M506.7 82.3h0M511.3 82.7h0M514.0 82.7h0M507.9 83.1h0M508.8 83.0h0M510.7 83.2h0M514.9 83.1h0M515.6 82.8h0M517.5 83.1h0M517.8 83.1h0M503.3 83.4h0M505.0 83.4h0M508.2 83.7h0M508.6 83.5h0M510.5 83.6h0M513.8 83.7h0M513.7 83.5h0M505.2 84.2h0M507.0 83.9h0M511.1 83.9h0M511.2 84.2h0M505.1 84.3h0M506.8 84.5h0M508.5 84.5h0M512.5 84.5h0M512.0 84.5h0M511.7 84.3h0M513.9 84.7h0M515.9 84.4h0M519.5 84.3h0M521.0 84.5h0M506.0 84.8h0M506.6 85.2h0M507.8 85.2h0M510.2 85.2h0M513.6 84.9h0M514.1 85.1h0M518.8 85.2h0M520.0 84.8h0M520.3 85.2h0M520.3 85.1h0M522.1 84.8h0M502.9 85.5h0M506.8 85.6h0M510.3 85.6h0M511.1 85.7h0M517.1 85.3h0M504.0 86.1h0M505.7 85.9h0M507.1 86.0h0M508.0 85.9h0M508.9 86.0h0M510.6 85.8h0M512.0 86.0h0M512.2 86.2h0M514.0 86.0h0M516.4 86.1h0M517.8 86.2h0M517.3 86.0h0M524.0 86.1h0M506.3 86.6h0M506.8 86.5h0M512.2 86.7h0M519.0 86.7h0M508.9 87.1h0M517.3 86.9h0M518.7 87.0h0M521.8 86.9h0M522.6 87.0h0M505.3 87.3h0M511.1 87.3h0M514.8 87.3h0M514.6 87.4h0M516.7 87.3h0M518.7 87.6h0M521.0 87.4h0M510.3 87.8h0M511.3 88.2h0M514.0 87.8h0M513.9 88.2h0M515.3 88.1h0M522.6 88.0h0M507.0 88.7h0M508.6 88.7h0M510.0 88.4h0M510.8 88.4h0M511.1 88.3h0M512.9 88.6h0M514.9 88.5h0M504.8 89.1h0M506.3 89.0h0M509.5 89.2h0M510.3 89.2h0M514.1 88.8h0M514.7 89.0h0M516.2 88.8h0M519.6 88.9h0M524.6 89.0h0M513.3 89.4h0M515.2 89.7h0M516.2 89.5h0M507.8 90.1h0M510.2 89.9h0M510.6 90.0h0M515.9 90.2h0M516.7 90.1h0M521.3 89.8h0M527.4 90.0h0M507.0 90.3h0M510.0 90.3h0M512.9 90.7h0M515.2 90.6h0M517.8 90.7h0M525.5 90.3h0M516.3 90.8h0M517.1 91.0h0M525.3 91.2h0M507.1 91.4h0M508.6 91.6h0M511.7 91.7h0M513.7 91.4h0M514.8 91.6h0M517.9 91.3h0M518.3 91.5h0M519.1 91.4h0M522.0 91.5h0M512.3 92.2h0M514.3 92.0h0M514.7 92.2h0M518.3 91.9h0M523.2 92.2h0M522.7 91.8h0M523.5 92.2h0M528.0 92.0h0M528.0 91.9h0M511.2 92.5h0M514.9 92.4h0M516.5 92.7h0M517.8 92.4h0M522.1 92.5h0M525.6 92.7h0M527.0 92.5h0M508.7 93.0h0M509.3 93.1h0M509.9 93.1h0M513.0 93.0h0M516.1 92.8h0M516.2 92.9h0M517.5 92.9h0M518.7 93.2h0M520.1 93.0h0M521.6 92.8h0M529.3 92.8h0M511.6 93.5h0M517.5 93.7h0M519.9 93.3h0M524.3 93.5h0M513.8 94.0h0M514.2 93.9h0M516.3 94.1h0M516.5 94.0h0M518.2 93.8h0M520.6 94.1h0M522.3 94.2h0M524.9 94.0h0M514.8 94.5h0M517.8 94.6h0M517.2 94.4h0M520.3 94.6h0M521.9 94.3h0M523.0 94.6h0M523.5 94.4h0M525.0 94.4h0M526.6 94.7h0M528.2 94.3h0M512.0 95.1h0M515.4 94.8h0M517.4 95.2h0M520.0 95.1h0M521.0 95.1h0M523.2 94.8h0M524.5 94.8h0M524.9 95.1h0M525.2 95.0h0M527.8 95.2h0M529.8 94.9h0M517.0 95.4h0M517.3 95.5h0M516.5 95.5h0M517.4 95.5h0M524.1 95.4h0M510.4 96.0h0M510.5 96.0h0M515.3 95.9h0M515.8 96.0h0M517.4 95.9h0M517.9 95.8h0M519.8 96.1h0M521.0 96.6h0M527.2 96.6h0M527.3 96.4h0M513.8 97.0h0M521.1 97.2h0M525.1 97.0h0M527.0 97.1h0M528.1 97.0h0M516.0 97.5h0M517.2 97.3h0M520.6 97.4h0M524.1 97.7h0M525.3 97.6h0M526.7 97.7h0M516.3 98.0h0M527.1 98.0h0M512.8 98.5h0M514.7 98.4h0M517.3 98.7h0M520.1 98.5h0M533.1 98.5h0M517.0 98.8h0M518.2 99.2h0M520.3 99.2h0M521.5 99.1h0M521.6 98.8h0M522.1 99.0h0M525.1 98.8h0M527.0 99.0h0M528.2 99.1h0M515.6 99.6h0M521.8 99.4h0M521.8 99.3h0M525.3 99.5h0M525.1 99.5h0M528.9 99.3h0M529.6 99.6h0M530.1 99.5h0M531.1 99.6h0M518.8 99.9h0M521.2 100.0h0M522.1 99.9h0M524.7 99.9h0M525.3 100.0h0M513.6 100.6h0M516.5 100.5h0M519.2 100.3h0M519.1 100.3h0M521.2 100.6h0M525.1 100.4h0M528.3 100.4h0M529.0 100.6h0M519.5 100.9h0M522.1 101.1h0M523.2 101.0h0M528.1 100.9h0M529.2 101.0h0M515.8 101.6h0M518.8 101.3h0M519.9 101.6h0M523.0 101.3h0M522.4 101.3h0M526.5 101.5h0M528.8 101.4h0M529.0 101.7h0M529.4 102.2h0M517.0 102.4h0M520.2 102.3h0M522.7 102.5h0M523.7 102.3h0M529.2 102.3h0M529.1 102.7h0M530.6 102.3h0M530.0 102.3h0M534.9 102.6h0M522.0 103.1h0M522.9 103.1h0M535.1 103.2h0M525.6 103.7h0M525.6 103.7h0M527.5 103.5h0M529.0 103.7h0M534.0 103.6h0M536.0 103.6h0M520.3 104.1h0M526.2 103.9h0M527.2 104.1h0M530.3 103.8h0M530.1 104.1h0M520.9 104.7h0M523.3 104.6h0M522.5 104.3h0M524.0 104.3h0M523.6 104.7h0M527.1 104.3h0M527.2 104.3h0M527.7 104.7h0M532.8 104.6h0M534.0 104.6h0M516.9 104.8h0M518.2 104.8h0M522.1 105.1h0M528.6 105.0h0M527.8 105.2h0M529.5 105.1h0M529.7 105.1h0M523.5 105.5h0M525.3 105.6h0M526.2 105.7h0M528.7 105.5h0M528.5 105.5h0M528.4 105.5h0M532.6 105.4h0M533.6 105.4h0M534.7 105.3h0M530.1 106.1h0M533.1 106.1h0M533.2 106.2h0M533.5 106.2h0M536.2 106.0h0M537.9 106.1h0M517.7 106.3h0M519.3 106.5h0M521.9 106.6h0M525.9 106.7h0M526.1 106.5h0M529.3 106.5h0M534.6 106.6h0M524.2 107.1h0M526.8 107.1h0M530.4 106.8h0M531.5 107.2h0M533.0 107.0h0M532.7 107.2h0M523.2 107.3h0M525.4 107.3h0M530.7 107.4h0M534.5 107.5h0M519.4 108.1h0M522.3 108.2h0M523.9 108.2h0M525.6 108.0h0M527.7 107.9h0M528.1 107.8h0M528.5 108.0h0M526.2 108.6h0M529.0 108.7h0M532.0 108.7h0M532.0 108.7h0M532.4 108.5h0M533.5 108.4h0M538.3 108.7h0M529.9 109.1h0M530.1 109.2h0M533.3 108.9h0M534.7 108.9h0M523.2 109.3h0M527.0 109.7h0M530.2 109.6h0M531.6 109.4h0M526.3 110.1h0M527.2 110.2h0M529.6 110.2h0M531.7 110.2h0M532.8 110.1h0M533.7 110.1h0M534.6 109.8h0M536.1 109.8h0M525.6 110.6h0M525.4 110.4h0M528.1 110.5h0M533.1 110.3h0M537.0 110.6h0M540.1 110.4h0M530.5 111.0h0M533.1 111.2h0M533.4 111.0h0M533.6 111.1h0M536.7 111.0h0M536.9 111.1h0M539.3 110.8h0M525.0 111.5h0M525.9 111.7h0M527.4 111.6h0M528.2 111.6h0M529.3 111.3h0M529.5 111.5h0M530.8 111.5h0M535.2 111.7h0M536.6 111.3h0M541.7 111.4h0M525.4 111.8h0M526.2 111.9h0M531.0 111.8h0M533.7 112.0h0M535.4 112.0h0M538.9 111.9h0M543.0 112.0h0M521.9 112.7h0M535.3 112.4h0M536.1 112.7h0M542.1 112.5h0M524.6 112.8h0M526.5 112.9h0M531.8 113.1h0M532.6 112.9h0M534.1 113.0h0M536.0 112.9h0M535.5 113.2h0M535.9 112.8h0M537.5 113.1h0M539.4 112.8h0M541.1 113.0h0M523.4 113.4h0M524.2 113.7h0M542.7 113.6h0M523.5 114.1h0M524.3 114.1h0M525.7 114.2h0M525.5 114.0h0M528.0 113.9h0M529.2 113.8h0M531.8 114.0h0M537.7 113.8h0M538.5 113.9h0M540.4 113.8h0M543.5 114.0h0M525.4 114.7h0M527.7 114.6h0M529.9 114.7h0M529.8 114.4h0M531.6 114.6h0M532.5 114.6h0M535.6 114.5h0M536.5 114.6h0M542.4 114.6h0M526.3 114.9h0M538.5 114.9h0M526.1 115.5h0M527.6 115.6h0M531.0 115.7h0M532.8 115.7h0M537.8 115.3h0M539.6 115.3h0M540.3 115.4h0M533.0 116.0h0M533.2 116.1h0M537.3 116.2h0M541.5 116.2h0M541.0 116.1h0M542.1 116.2h0M524.0 116.7h0M526.6 116.7h0M531.0 116.4h0M536.1 116.3h0M537.4 116.5h0M538.8 116.6h0M539.6 116.7h0M542.1 116.4h0M543.2 116.3h0M525.8 117.1h0M530.4 117.0h0M532.1 116.8h0M532.3 116.8h0M533.4 116.9h0M537.8 116.8h0M539.6 117.0h0M539.7 117.0h0M540.3 117.2h0M541.1 116.8h0M541.3 117.1h0M543.0 117.1h0M545.4 117.1h0M546.2 116.8h0M525.3 117.7h0M533.4 117.6h0M534.5 117.7h0M535.3 117.6h0M545.6 117.5h0M547.2 117.7h0M525.9 118.2h0M527.1 117.9h0M530.3 118.1h0M532.4 118.0h0M535.4 117.8h0M536.7 118.1h0M537.0 118.2h0M537.2 118.0h0M537.4 117.9h0M538.3 118.2h0M544.6 118.2h0M549.1 117.8h0M524.8 118.4h0M528.4 118.4h0M531.8 118.4h0M532.2 118.4h0M534.8 118.5h0M535.4 118.3h0M534.9 118.4h0M539.6 118.7h0M539.3 118.5h0M539.8 118.4h0M542.8 118.4h0M544.1 118.5h0M544.3 118.7h0M531.6 118.8h0M536.7 119.0h0M538.4 118.9h0M543.0 118.8h0M543.2 119.1h0M545.1 119.0h0M550.1 119.1h0M527.0 119.7h0M540.7 119.3h0M540.6 119.6h0M543.3 119.5h0M528.4 119.9h0M530.6 120.0h0M533.2 120.0h0M533.3 120.2h0M534.7 120.0h0M535.8 120.0h0M540.4 119.9h0M540.7 120.2h0M544.8 120.0h0M547.1 119.8h0M526.6 120.3h0M528.0 120.6h0M534.0 120.5h0M541.2 120.7h0M541.3 120.5h0M542.2 120.3h0M543.2 120.3h0M545.7 120.4h0M548.2 120.3h0M550.0 120.6h0M528.1 121.0h0M533.2 120.9h0M541.8 121.1h0M546.5 121.0h0M527.1 121.3h0M532.3 121.3h0M534.3 121.3h0M533.6 121.3h0M540.3 121.3h0M540.8 121.3h0M543.0 121.6h0M546.6 121.6h0M546.5 121.5h0M551.4 121.5h0M527.2 121.8h0M528.6 121.8h0M540.3 121.8h0M545.4 122.2h0M548.0 122.0h0M532.2 122.4h0M535.7 122.5h0M536.4 122.7h0M540.0 122.3h0M540.0 122.3h0M540.8 122.5h0M542.9 122.3h0M544.2 122.6h0M547.0 122.3h0M549.1 122.3h0M529.7 123.2h0M536.4 122.8h0M537.2 123.2h0M537.8 122.8h0M539.8 123.1h0M544.1 123.1h0M543.8 123.0h0M545.4 123.2h0M547.0 123.1h0M554.0 123.0h0M530.2 123.4h0M535.7 123.4h0M536.3 123.4h0M537.2 123.4h0M539.9 123.6h0M542.4 123.4h0M542.2 123.7h0M542.3 123.3h0M542.9 123.5h0M526.3 124.2h0M530.7 123.8h0M532.2 123.9h0M533.8 124.2h0M536.0 124.2h0M538.2 124.2h0M538.9 124.0h0M539.1 124.0h0M540.3 124.2h0M541.6 124.1h0M546.8 124.2h0M535.4 124.7h0M535.8 124.4h0M538.0 124.6h0M544.5 124.5h0M545.9 124.4h0M529.3 124.9h0M534.9 124.9h0M534.9 124.9h0M543.2 124.9h0M547.0 125.1h0M552.7 125.0h0M534.2 125.4h0M535.1 125.3h0M535.5 125.5h0M536.3 125.4h0M538.5 125.6h0M547.3 125.7h0M528.4 125.8h0M536.5 126.2h0M537.6 125.9h0M537.6 126.2h0M538.7 125.8h0M539.3 126.2h0M540.3 126.2h0M540.8 126.1h0M542.1 125.8h0M543.3 126.1h0M544.1 126.0h0M543.8 125.9h0M544.5 125.9h0M547.9 126.0h0M534.3 126.6h0M537.7 126.3h0M538.7 126.4h0M539.8 126.3h0M539.0 126.3h0M542.3 126.7h0M543.1 126.3h0M544.3 126.6h0M553.4 126.5h0M554.4 126.4h0M531.3 127.2h0M532.5 127.0h0M536.6 127.0h0M537.5 126.8h0M537.8 127.1h0M538.7 126.8h0M543.7 126.9h0M544.7 127.2h0M536.7 127.7h0M543.4 127.6h0M545.8 127.4h0M546.4 127.5h0M546.8 127.4h0M530.9 127.9h0M535.3 127.8h0M537.1 128.2h0M537.5 127.9h0M543.6 127.8h0M544.5 128.2h0M546.7 128.0h0M546.9 127.9h0M549.3 128.0h0M552.5 128.2h0M554.7 127.8h0M529.0 128.6h0M540.5 128.4h0M541.4 128.7h0M551.1 128.6h0M551.1 128.7h0M551.8 128.3h0M528.7 129.2h0M530.1 129.1h0M533.1 128.9h0M533.9 129.1h0M541.4 129.2h0M549.0 128.9h0M550.6 129.0h0M550.7 129.0h0M550.9 128.9h0M552.6 129.0h0M534.8 129.7h0M536.1 129.3h0M537.4 129.3h0M541.1 129.7h0M542.8 129.4h0M543.9 129.3h0M547.1 129.5h0M556.3 129.7h0M533.9 130.1h0M539.8 130.2h0M540.3 129.9h0M541.0 129.9h0M549.2 130.1h0M551.6 129.9h0M553.6 130.0h0M558.3 129.9h0M534.6 130.7h0M540.7 130.7h0M543.0 130.6h0M545.3 130.3h0M545.8 130.6h0M548.2 130.4h0M548.9 130.4h0M551.4 130.6h0M551.3 130.6h0M533.8 131.1h0M538.9 131.2h0M545.6 130.9h0M545.4 131.1h0M548.1 131.2h0M552.6 130.8h0M553.2 131.2h0M553.2 131.1h0M553.7 131.1h0M555.4 131.1h0M556.5 130.8h0M534.4 131.5h0M538.7 131.3h0M538.3 131.7h0M541.0 131.5h0M540.6 131.4h0M540.1 131.4h0M556.2 131.3h0M535.1 131.9h0M537.3 131.9h0M542.4 132.0h0M544.1 131.8h0M543.9 132.0h0M549.8 132.1h0M528.7 132.4h0M533.5 132.7h0M534.8 132.3h0M534.5 132.4h0M540.7 132.3h0M543.3 132.6h0M544.2 132.6h0M546.2 132.7h0M546.4 132.3h0M547.9 132.3h0M551.1 132.4h0M553.1 132.6h0M557.0 132.5h0M560.2 132.4h0M538.5 132.9h0M545.5 133.2h0M545.1 133.0h0M552.3 133.0h0M553.3 133.0h0M529.6 133.4h0M534.0 133.5h0M537.4 133.4h0M539.2 133.7h0M544.0 133.4h0M545.1 133.7h0M547.1 133.5h0M548.3 133.4h0M550.6 133.7h0M552.2 133.4h0M553.0 133.4h0M552.1 133.7h0M553.9 133.4h0M556.8 133.7h0M536.1 133.8h0M537.2 133.8h0M537.8 133.9h0M540.1 134.2h0M541.9 134.2h0M544.4 134.1h0M546.1 134.0h0M548.4 134.0h0M548.8 134.2h0M554.1 133.9h0M553.8 134.1h0M556.0 134.2h0M558.3 133.9h0M533.4 134.3h0M536.8 134.4h0M539.8 134.3h0M542.3 134.6h0M544.9 134.4h0M549.5 134.4h0M551.1 134.3h0M551.0 134.4h0M550.8 134.5h0M536.6 135.1h0M540.3 134.8h0M541.0 135.1h0M542.9 135.0h0M546.5 134.8h0M547.7 134.9h0M552.1 134.8h0M553.0 134.8h0M553.6 134.9h0M555.1 134.8h0M530.4 135.4h0M541.3 135.4h0M542.5 135.3h0M549.0 135.6h0M551.7 135.6h0M552.6 135.4h0M557.1 135.6h0M558.4 135.4h0M559.2 135.5h0M536.2 136.1h0M541.5 135.8h0M548.0 136.0h0M550.0 135.9h0M552.0 135.8h0M552.4 135.9h0M552.3 136.0h0M559.1 135.8h0M559.4 136.1h0M561.9 135.9h0M537.2 136.6h0M537.9 136.5h0M542.5 136.6h0M545.2 136.3h0M545.4 136.7h0M549.3 136.7h0M553.7 136.7h0M559.3 136.7h0M533.8 136.9h0M541.1 136.9h0M544.9 137.1h0M552.7 137.0h0M554.9 136.8h0M536.2 137.5h0M540.4 137.6h0M542.2 137.4h0M543.7 137.5h0M544.1 137.7h0M547.4 137.3h0M548.3 137.5h0M549.7 137.3h0M550.7 137.3h0M553.2 137.7h0M553.1 137.4h0M553.7 137.7h0M557.5 137.3h0M560.7 137.5h0M539.5 138.2h0M539.8 138.0h0M541.3 138.2h0M543.7 138.0h0M545.8 138.1h0M546.9 138.0h0M548.9 138.2h0M549.1 137.9h0M555.0 138.1h0M555.5 138.2h0M557.0 137.9h0M539.1 138.5h0M543.5 138.3h0M547.4 138.3h0M550.6 138.7h0M554.9 138.3h0M558.9 138.5h0M539.9 139.1h0M542.6 138.9h0M542.9 138.8h0M545.4 139.2h0M544.7 138.8h0M550.6 139.1h0M554.5 138.8h0M554.7 138.8h0M555.4 139.0h0M562.2 139.0h0M533.5 139.6h0M536.8 139.7h0M539.0 139.4h0M544.8 139.6h0M543.9 139.6h0M548.1 139.3h0M552.3 139.6h0M557.0 139.3h0M546.5 140.2h0M550.5 140.1h0M554.8 140.0h0M557.1 140.2h0M535.0 140.6h0M537.4 140.4h0M541.3 140.6h0M542.1 140.4h0M543.6 140.3h0M544.2 140.7h0M546.2 140.3h0M545.9 140.3h0M547.0 140.7h0M548.3 140.4h0M550.4 140.7h0M553.1 140.5h0M552.6 140.6h0M553.6 140.6h0M555.9 140.4h0M545.7 141.1h0M547.6 141.2h0M550.5 140.8h0M551.1 141.1h0M551.9 140.8h0M553.9 140.8h0M532.7 141.5h0M541.5 141.5h0M542.6 141.4h0M545.5 141.6h0M547.2 141.4h0M535.0 142.2h0M537.0 142.1h0M541.4 142.0h0M544.7 142.2h0M545.3 142.2h0M546.0 141.9h0M549.3 142.0h0M554.1 142.2h0M533.3 142.3h0M540.0 142.5h0M541.6 142.3h0M543.9 142.5h0M553.2 142.4h0M558.3 142.7h0M558.7 142.4h0M532.6 142.9h0M533.6 143.0h0M539.2 143.1h0M538.6 143.1h0M541.6 143.2h0M541.6 142.9h0M542.5 142.9h0M543.1 143.1h0M552.0 143.1h0M553.9 143.1h0M553.4 143.0h0M554.9 142.8h0M556.1 143.1h0M558.2 142.8h0M562.0 142.8h0M540.4 143.4h0M544.9 143.4h0M548.4 143.7h0M548.5 143.6h0M551.7 143.4h0M553.1 143.4h0M554.4 143.6h0M564.8 143.5h0M532.3 143.9h0M543.9 144.1h0M545.4 144.1h0M548.1 143.9h0M549.3 144.1h0M550.0 143.8h0M552.0 143.9h0M553.5 144.2h0M535.7 144.4h0M538.3 144.4h0M538.8 144.6h0M540.9 144.7h0M544.4 144.6h0M544.2 144.7h0M547.2 144.5h0M554.6 144.7h0M555.0 144.4h0M556.5 144.4h0M537.2 144.8h0M538.9 144.9h0M542.4 145.2h0M543.2 145.2h0M548.3 145.1h0M553.2 144.9h0M555.2 145.1h0M558.2 145.0h0M563.1 145.2h0M537.7 145.7h0M541.5 145.5h0M547.1 145.3h0M547.9 145.3h0M553.8 145.6h0M555.8 145.3h0M561.6 145.3h0M537.4 145.8h0M540.7 146.2h0M547.9 145.9h0M553.9 146.2h0M556.1 146.0h0M555.9 146.0h0M556.7 146.0h0M557.9 145.8h0M557.7 146.2h0M536.7 146.6h0M540.5 146.5h0M542.7 146.3h0M542.1 146.4h0M542.4 146.5h0M543.4 146.5h0M548.1 146.3h0M549.1 146.5h0M551.2 146.7h0M551.3 146.5h0M552.3 146.7h0M552.5 146.7h0M553.7 146.7h0M556.2 146.3h0M565.2 146.7h0M538.7 146.8h0M540.4 147.0h0M541.2 146.8h0M541.1 146.8h0M543.1 147.1h0M544.0 146.8h0M550.6 146.9h0M553.5 146.8h0M556.3 147.0h0M565.0 146.9h0M536.2 147.3h0M538.9 147.6h0M540.4 147.5h0M545.2 147.6h0M546.8 147.6h0M546.1 147.6h0M547.4 147.7h0M548.4 147.3h0M548.3 147.5h0M549.8 147.7h0M549.0 147.6h0M549.7 147.5h0M550.5 147.3h0M550.2 147.7h0M533.0 147.9h0M535.9 147.9h0M536.4 148.1h0M540.6 148.1h0M542.0 148.1h0M549.1 148.1h0M549.6 148.0h0M550.8 147.9h0M552.9 148.0h0M553.3 147.8h0M559.6 147.8h0M535.9 148.7h0M539.6 148.6h0M545.9 148.5h0M546.7 148.6h0M548.6 148.4h0M554.1 148.4h0M556.8 148.4h0M557.1 148.3h0M563.3 148.6h0M532.7 148.9h0M540.3 149.2h0M541.9 149.2h0M546.6 149.2h0M548.7 148.9h0M563.8 148.8h0M565.9 148.8h0M565.8 149.2h0M536.2 149.5h0M537.6 149.4h0M540.7 149.4h0M549.3 149.5h0M551.3 149.7h0M553.9 149.6h0M556.0 149.5h0M556.4 149.5h0M558.6 149.6h0M559.6 149.6h0M562.6 149.4h0M542.3 150.1h0M543.5 150.1h0M546.2 150.0h0M547.0 150.0h0M548.0 149.8h0M550.3 149.8h0M552.9 150.1h0M554.4 150.1h0M553.9 149.9h0M555.8 149.9h0M557.0 150.0h0M559.0 149.9h0M560.1 149.8h0M561.0 150.0h0M562.8 149.9h0M565.9 150.1h0M534.9 150.7h0M541.1 150.7h0M541.9 150.7h0M544.6 150.7h0M547.0 150.3h0M549.9 150.6h0M552.7 150.7h0M554.4 150.6h0M555.7 150.7h0M560.9 150.4h0M539.0 150.9h0M538.6 151.2h0M549.4 151.1h0M551.2 151.1h0M555.5 151.2h0M556.9 150.8h0M557.3 150.9h0M557.1 151.1h0M561.5 150.9h0M535.8 151.4h0M542.1 151.4h0M545.5 151.6h0M546.9 151.4h0M546.4 151.3h0M548.8 151.4h0M556.7 151.5h0M560.6 151.5h0M566.1 151.7h0M533.1 152.2h0M541.6 152.0h0M544.2 152.0h0M543.8 152.2h0M544.6 152.2h0M545.1 151.8h0M545.7 152.1h0M549.1 152.1h0M558.6 152.0h0M533.6 152.7h0M538.8 152.6h0M544.7 152.3h0M548.1 152.4h0M554.6 152.6h0M563.3 152.5h0M563.7 152.3h0M566.0 152.3h0M535.6 153.1h0M545.3 152.9h0M554.2 153.1h0M558.7 153.1h0M559.8 153.2h0M566.8 152.9h0M536.6 153.5h0M541.6 153.3h0M542.8 153.7h0M547.5 153.4h0M548.6 153.5h0M550.8 153.7h0M553.7 153.4h0M555.3 153.3h0M558.5 153.4h0M557.7 153.7h0M559.2 153.5h0M559.6 153.5h0M539.3 154.0h0M545.8 154.2h0M547.8 154.0h0M549.1 153.8h0M551.5 153.9h0M552.5 154.2h0M556.3 154.2h0M559.3 153.9h0M560.2 154.1h0M541.7 154.6h0M545.6 154.4h0M547.3 154.4h0M548.7 154.4h0M552.4 154.3h0M556.7 154.4h0M559.6 154.7h0M559.4 154.7h0M567.5 154.6h0M534.3 155.1h0M538.4 154.8h0M538.4 155.2h0M538.3 154.8h0M540.0 155.0h0M550.6 154.9h0M550.7 154.9h0M554.1 155.0h0M555.6 155.0h0M555.6 155.2h0M557.3 154.8h0M564.2 155.0h0M563.9 155.1h0M564.2 154.9h0M539.7 155.6h0M540.7 155.6h0M544.5 155.4h0M545.5 155.3h0M547.0 155.4h0M548.9 155.7h0M549.8 155.3h0M555.0 155.7h0M554.5 155.7h0M556.6 155.3h0M557.1 155.5h0M558.8 155.6h0M564.0 155.3h0M566.3 155.5h0M536.0 155.8h0M536.0 156.0h0M536.4 155.9h0M540.6 156.1h0M548.4 156.2h0M549.3 156.2h0M551.5 156.0h0M559.7 156.2h0M560.7 155.8h0M539.1 156.3h0M539.5 156.6h0M548.2 156.3h0M552.0 156.3h0M553.1 156.6h0M553.9 156.5h0M554.3 156.4h0M557.2 156.6h0M560.1 156.4h0M563.4 156.5h0M535.0 156.8h0M542.2 156.8h0M543.0 157.2h0M550.3 156.9h0M551.7 156.8h0M553.3 157.1h0M552.6 157.0h0M555.0 156.9h0M561.8 156.8h0M562.9 156.8h0M547.5 157.5h0M549.1 157.6h0M550.3 157.6h0M553.5 157.6h0M557.5 157.3h0M560.3 157.5h0M560.8 157.7h0M563.8 157.7h0M564.1 157.3h0M538.2 158.0h0M537.8 157.8h0M539.0 158.1h0M540.5 158.1h0M542.7 158.2h0M543.7 157.9h0M544.7 157.8h0M551.8 157.8h0M552.3 157.8h0M553.1 158.2h0M555.1 158.2h0M558.5 158.1h0M560.0 158.2h0M561.4 158.1h0M563.4 158.1h0M565.7 158.0h0M543.0 158.7h0M544.4 158.7h0M545.6 158.5h0M549.0 158.3h0M549.5 158.3h0M552.9 158.5h0M556.2 158.7h0M560.1 158.4h0M563.4 158.6h0M564.1 158.4h0M565.2 158.6h0M564.8 158.4h0M566.7 158.7h0M534.1 158.8h0M540.6 159.1h0M541.7 159.2h0M541.1 159.0h0M544.2 159.1h0M549.4 158.9h0M548.9 159.1h0M550.2 159.1h0M551.6 159.1h0M552.8 158.9h0M554.7 159.1h0M561.9 158.9h0M538.6 159.3h0M539.2 159.3h0M540.5 159.7h0M544.7 159.3h0M546.2 159.7h0M546.9 159.4h0M548.0 159.5h0M562.6 159.6h0M567.3 159.4h0M539.7 159.8h0M547.6 160.2h0M549.9 159.9h0M549.4 159.8h0M551.5 160.0h0M552.0 159.9h0M554.8 159.8h0M555.8 160.2h0M556.7 160.1h0M557.8 160.0h0M561.5 159.9h0M565.1 159.8h0M567.0 159.8h0M541.1 160.7h0M549.8 160.6h0M568.9 160.3h0M537.7 161.0h0M538.2 161.2h0M543.9 160.8h0M545.3 161.1h0M547.1 161.0h0M549.7 161.0h0M553.6 160.8h0M554.1 161.1h0M556.8 161.0h0M557.0 161.1h0M561.6 160.9h0M561.8 161.2h0M562.6 161.0h0M563.9 161.1h0M569.0 160.9h0M541.9 161.7h0M547.2 161.6h0M550.4 161.3h0M550.6 161.4h0M551.9 161.5h0M552.5 161.5h0M555.4 161.6h0M556.8 161.3h0M559.2 161.5h0M559.8 161.6h0M565.1 161.5h0M566.7 161.5h0M536.4 161.9h0M544.3 161.9h0M544.0 161.8h0M548.7 161.8h0M551.4 162.1h0M555.4 161.8h0M557.1 161.9h0M567.3 161.8h0M541.7 162.3h0M541.6 162.3h0M547.1 162.7h0M548.2 162.5h0M549.5 162.4h0M550.0 162.3h0M555.1 162.4h0M555.5 162.6h0M558.4 162.7h0M561.3 162.6h0M563.1 162.7h0M566.4 162.4h0M536.7 163.2h0M535.9 163.1h0M545.2 162.8h0M546.3 163.2h0M547.4 163.0h0M548.3 163.0h0M548.6 162.9h0M548.9 162.8h0M554.7 163.0h0M559.7 163.1h0M563.2 163.2h0M562.5 163.0h0M566.5 162.8h0M567.1 162.8h0M537.0 163.4h0M547.5 163.5h0M548.7 163.3h0M548.7 163.3h0M552.0 163.6h0M558.2 163.7h0M566.7 163.4h0M567.5 163.4h0M540.8 163.9h0M543.8 163.9h0M544.2 163.8h0M545.8 164.1h0M547.6 164.1h0M553.4 163.9h0M553.8 163.9h0M555.7 164.2h0M562.3 163.8h0M565.8 164.2h0M533.6 164.4h0M534.1 164.7h0M546.2 164.5h0M546.7 164.6h0M551.2 164.6h0M554.2 164.7h0M555.2 164.4h0M557.8 164.6h0M559.3 164.5h0M559.4 164.6h0M560.5 164.4h0M560.6 164.6h0M564.8 164.3h0M538.0 165.1h0M544.1 165.0h0M546.3 165.0h0M551.3 164.9h0M552.6 164.8h0M557.2 164.9h0M565.2 164.9h0M565.9 165.2h0M536.0 165.7h0M539.7 165.5h0M541.5 165.6h0M548.5 165.5h0M552.7 165.3h0M556.3 165.4h0M559.5 165.4h0M536.6 166.1h0M537.4 166.0h0M546.5 166.0h0M548.0 165.8h0M549.7 165.9h0M551.5 166.2h0M552.7 165.9h0M558.3 166.2h0M559.7 166.2h0M561.3 165.9h0M561.6 166.0h0M566.8 166.0h0M566.8 166.2h0M536.4 166.6h0M539.4 166.3h0M546.4 166.3h0M547.4 166.3h0M552.0 166.6h0M555.6 166.4h0M555.9 166.4h0M560.1 166.6h0M538.0 167.2h0M539.1 166.8h0M543.8 167.0h0M546.1 166.9h0M547.7 166.8h0M549.4 167.0h0M553.8 166.8h0M560.8 167.1h0M564.9 166.9h0M542.2 167.3h0M545.6 167.6h0M551.8 167.6h0M552.1 167.6h0M555.1 167.7h0M559.7 167.7h0M562.2 167.5h0M561.8 167.3h0M566.8 167.5h0M569.3 167.4h0M540.7 167.9h0M546.3 168.0h0M554.8 168.2h0M561.2 168.1h0M568.1 168.1h0M537.7 168.6h0M539.7 168.3h0M541.7 168.7h0M543.7 168.7h0M543.1 168.5h0M545.7 168.4h0M551.3 168.6h0M551.3 168.4h0M551.6 168.5h0M557.8 168.3h0M560.8 168.6h0M564.9 168.7h0M565.4 168.7h0M535.0 169.0h0M541.1 169.0h0M541.3 169.2h0M542.8 169.1h0M543.1 169.1h0M544.2 169.2h0M547.6 169.1h0M551.6 168.9h0M552.5 168.9h0M553.3 169.1h0M555.6 168.8h0M556.8 169.2h0M557.5 169.1h0M559.7 169.2h0M560.1 169.2h0M541.2 169.4h0M544.5 169.3h0M545.2 169.5h0M546.4 169.6h0M547.5 169.3h0M549.1 169.5h0M550.9 169.3h0M555.4 169.5h0M565.4 169.4h0M566.8 169.3h0M537.3 170.1h0M555.9 170.0h0M540.6 170.4h0M542.9 170.5h0M548.2 170.4h0M549.2 170.7h0M549.4 170.6h0M550.1 170.7h0M551.8 170.3h0M553.2 170.4h0M554.1 170.4h0M555.1 170.5h0M555.5 170.4h0M556.1 170.7h0M560.0 170.6h0M562.8 170.4h0M566.7 170.4h0M536.9 170.9h0M537.3 170.9h0M540.1 171.2h0M546.7 171.2h0M552.4 171.2h0M552.2 170.9h0M554.0 170.9h0M556.8 170.8h0M561.9 171.0h0M564.6 170.9h0M568.0 171.1h0M534.2 171.5h0M539.9 171.4h0M543.5 171.6h0M544.7 171.4h0M552.0 171.5h0M551.9 171.4h0M556.3 171.3h0M560.5 171.7h0M561.4 171.3h0M563.6 171.5h0M566.6 171.6h0M569.5 171.4h0M539.3 172.2h0M553.5 172.0h0M554.6 172.0h0M556.2 172.2h0M557.4 172.0h0M557.5 172.1h0M559.0 171.9h0M564.1 171.9h0M539.5 172.4h0M539.9 172.4h0M544.1 172.7h0M545.9 172.3h0M548.6 172.3h0M557.2 172.3h0M564.7 172.7h0M567.5 172.3h0M568.9 172.5h0M537.0 173.0h0M539.5 173.0h0M542.9 173.0h0M549.0 173.0h0M549.9 172.9h0M551.1 172.8h0M554.7 172.8h0M555.8 172.9h0M560.0 173.1h0M567.9 173.1h0M540.9 173.5h0M546.5 173.4h0M547.9 173.4h0M548.1 173.6h0M549.3 173.3h0M552.1 173.6h0M558.8 173.4h0M562.6 173.7h0M563.1 173.7h0M536.9 174.1h0M543.6 174.2h0M543.8 174.1h0M544.6 174.1h0M545.7 174.0h0M546.0 173.9h0M547.4 173.8h0M552.8 174.2h0M556.9 173.9h0M562.0 173.8h0M563.0 174.0h0M564.4 174.1h0M565.7 174.1h0M566.7 173.8h0M535.1 174.7h0M541.1 174.4h0M542.7 174.7h0M543.5 174.6h0M545.3 174.7h0M551.0 174.4h0M555.5 174.4h0M534.8 175.1h0M544.4 174.8h0M545.6 174.8h0M549.4 175.2h0M550.5 175.1h0M552.6 174.8h0M555.9 175.2h0M557.9 175.1h0M559.9 175.1h0M559.5 175.0h0M560.9 174.8h0M566.6 175.2h0M567.6 175.0h0M569.0 175.2h0M535.5 175.3h0M546.7 175.3h0M549.4 175.4h0M552.1 175.3h0M553.8 175.4h0M562.3 175.5h0M562.2 175.4h0M563.6 175.7h0M564.1 175.7h0M564.6 175.3h0M546.5 176.1h0M546.8 176.0h0M551.1 176.2h0M551.8 176.1h0M552.6 175.8h0M552.8 175.9h0M557.9 176.1h0M561.7 175.9h0M568.9 176.2h0M539.8 176.3h0M547.3 176.4h0M549.9 176.4h0M553.5 176.4h0M552.9 176.7h0M554.7 176.6h0M560.4 176.4h0M559.7 176.6h0M567.2 176.4h0M569.6 176.5h0M537.4 177.2h0M538.5 177.1h0M544.2 176.8h0M549.6 176.8h0M550.3 177.1h0M557.1 176.9h0M559.7 176.8h0M560.9 176.9h0M563.7 177.2h0M563.7 176.8h0M563.6 177.0h0M568.7 177.0h0M570.0 177.1h0M533.0 177.6h0M536.1 177.7h0M541.5 177.5h0M546.2 177.6h0M547.5 177.3h0M550.1 177.3h0M561.0 177.4h0M562.4 177.6h0M565.2 177.3h0M568.1 177.4h0M568.4 177.6h0M533.8 178.2h0M544.1 177.8h0M548.5 178.2h0M549.0 177.9h0M553.1 178.1h0M553.9 177.8h0M554.0 177.9h0M556.6 178.2h0M536.0 178.3h0M538.2 178.7h0M540.6 178.7h0M548.5 178.6h0M548.6 178.4h0M550.6 178.3h0M553.6 178.6h0M553.0 178.3h0M561.1 178.3h0M561.8 178.6h0M561.9 178.5h0M566.3 178.6h0M567.6 178.5h0M535.1 179.2h0M541.8 178.9h0M542.7 178.8h0M545.2 178.8h0M548.8 179.0h0M551.4 179.0h0M555.1 179.2h0M556.3 178.9h0M556.8 178.8h0M557.7 179.0h0M557.7 178.9h0M558.7 178.8h0M561.8 179.2h0M564.7 179.1h0M544.8 179.5h0M544.4 179.6h0M545.4 179.3h0M548.7 179.4h0M549.4 179.3h0M552.0 179.3h0M552.9 179.7h0M555.7 179.3h0M559.2 179.4h0M558.8 179.4h0M559.5 179.4h0M561.3 179.6h0M563.7 179.3h0M567.4 179.3h0M567.7 179.7h0M539.7 180.2h0M540.3 179.8h0M544.4 180.1h0M543.9 179.9h0M546.2 179.9h0M554.5 180.2h0M557.5 179.8h0M557.6 180.2h0M542.9 180.3h0M549.0 180.3h0M552.9 180.6h0M556.6 180.4h0M563.5 180.7h0M566.5 180.6h0M567.5 180.5h0M540.6 181.0h0M549.8 180.9h0M550.1 181.1h0M552.7 181.2h0M563.5 181.2h0M563.8 181.0h0M564.3 181.2h0M566.6 180.9h0M545.8 181.4h0M549.4 181.6h0M556.8 181.5h0M536.3 182.1h0M538.3 182.1h0M549.4 182.2h0M556.6 182.2h0M558.9 182.0h0M560.1 182.0h0M563.4 181.8h0M563.9 181.8h0M567.3 181.9h0M537.9 182.7h0M543.7 182.7h0M547.6 182.5h0M554.1 182.4h0M562.7 182.6h0M563.5 182.3h0M567.5 182.7h0M566.9 182.5h0M569.6 182.4h0M541.7 183.2h0M550.7 183.2h0M552.0 183.0h0M557.9 183.2h0M560.1 183.2h0M564.3 182.9h0M570.0 183.2h0M546.0 183.6h0M545.5 183.7h0M553.6 183.4h0M556.8 183.5h0M558.9 183.7h0M560.7 183.4h0M562.6 183.7h0M562.0 183.5h0M567.8 183.6h0M536.8 183.9h0M546.4 183.8h0M553.8 183.9h0M556.5 184.2h0M558.3 184.2h0M559.4 183.9h0M560.0 183.9h0M561.7 184.1h0M562.1 184.2h0M563.4 183.9h0M568.5 183.8h0M537.6 184.5h0M542.2 184.7h0M542.5 184.4h0M546.7 184.7h0M553.2 184.6h0M557.8 184.5h0M558.6 184.3h0M544.3 185.0h0M547.2 184.8h0M547.6 184.8h0M547.9 185.1h0M550.6 185.1h0M551.9 185.1h0M553.3 184.9h0M556.3 184.8h0M560.4 184.9h0M565.9 185.1h0M538.5 185.6h0M539.0 185.7h0M539.0 185.5h0M539.2 185.4h0M543.3 185.5h0M548.0 185.7h0M548.3 185.4h0M551.3 185.5h0M556.9 185.7h0M560.0 185.7h0M563.3 185.7h0M564.6 185.7h0M567.1 185.4h0M568.0 185.3h0M569.5 185.7h0M541.1 186.1h0M550.1 185.9h0M552.3 186.2h0M555.7 186.2h0M557.8 186.2h0M559.5 185.8h0M561.0 186.0h0M562.3 186.2h0M563.8 185.9h0M539.8 186.7h0M547.2 186.4h0M559.1 186.6h0M558.6 186.4h0M563.4 186.5h0M539.8 187.1h0M547.0 187.1h0M549.2 186.8h0M551.3 186.8h0M551.5 187.0h0M551.1 186.9h0M552.9 186.8h0M555.7 187.0h0M562.9 187.1h0M563.5 187.1h0M563.8 186.8h0M564.1 186.8h0M564.5 186.9h0M564.9 187.2h0M567.3 187.1h0M569.5 186.8h0M546.3 187.7h0M564.5 187.4h0M538.8 188.0h0M547.3 188.1h0M550.1 187.9h0M553.0 188.2h0M554.8 187.8h0M555.1 188.1h0M556.7 188.1h0M559.9 187.8h0M562.2 188.2h0M564.5 187.9h0M542.3 188.7h0M544.1 188.4h0M543.7 188.6h0M544.7 188.6h0M548.4 188.7h0M549.8 188.3h0M550.6 188.3h0M551.1 188.6h0M554.2 188.5h0M556.5 188.3h0M555.9 188.6h0M567.9 188.6h0M540.5 189.2h0M545.4 189.1h0M547.3 189.2h0M553.2 188.9h0M554.7 189.0h0M558.0 188.8h0M558.0 188.8h0M559.9 188.8h0M568.2 189.1h0M568.0 188.8h0M568.9 189.0h0M570.0 188.9h0M543.8 189.4h0M546.4 189.6h0M548.4 189.6h0M548.3 189.3h0M550.2 189.3h0M560.0 189.6h0M560.7 189.4h0M561.9 189.4h0M566.4 189.6h0M566.6 189.5h0M542.9 190.2h0M549.1 190.0h0M551.7 190.1h0M552.3 189.8h0M554.4 190.1h0M558.6 190.0h0M564.1 189.9h0M543.4 190.4h0M546.4 190.4h0M551.0 190.6h0M551.1 190.6h0M553.5 190.4h0M558.7 190.4h0M558.5 190.3h0M559.6 190.6h0M562.5 190.6h0M562.7 190.4h0M563.9 190.3h0M542.0 191.1h0M548.0 191.4h0M558.5 191.5h0M544.9 192.2h0M550.2 191.9h0M560.2 192.2h0M561.0 191.8h0M561.6 191.8h0M564.6 192.1h0M546.8 192.4h0M549.8 192.6h0M553.7 192.6h0M555.2 192.7h0M558.0 192.6h0M558.9 192.4h0M560.0 192.4h0M569.1 192.4h0M569.4 192.7h0M552.7 193.1h0M555.0 193.2h0M560.9 193.2h0M567.3 192.9h0M558.4 193.6h0M562.6 193.5h0M568.9 193.4h0M568.3 193.6h0M540.4 193.9h0M553.8 194.0h0M554.7 194.0h0M558.4 194.2h0M559.7 194.1h0M560.4 194.2h0M543.9 194.5h0M546.7 194.6h0M547.2 194.5h0M551.6 194.4h0M554.6 194.3h0M555.7 194.5h0M556.5 194.5h0M565.8 194.6h0M570.3 194.3h0M539.3 195.0h0M549.1 195.0h0M552.0 194.8h0M553.7 194.8h0M555.7 195.2h0M556.5 195.1h0M556.9 194.8h0M559.8 195.1h0M565.6 195.1h0M548.8 195.7h0M552.7 195.3h0M553.8 195.7h0M560.1 195.4h0M560.4 195.5h0M547.2 196.2h0M560.6 196.2h0M567.0 196.1h0M566.2 196.1h0M570.0 196.1h0M570.5 195.8h0M541.9 196.5h0M548.3 196.5h0M549.7 196.5h0M549.5 196.5h0M555.0 196.5h0M558.1 196.6h0M562.7 196.4h0M564.2 196.6h0M565.4 196.5h0M567.1 196.5h0M566.4 196.5h0M567.5 196.7h0M544.8 197.0h0M546.3 197.2h0M547.4 196.9h0M552.1 197.0h0M553.9 197.0h0M557.9 197.1h0M560.1 196.8h0M566.7 197.1h0M567.9 197.1h0M569.8 197.0h0M545.3 197.7h0M551.9 197.5h0M560.5 197.5h0M561.8 197.6h0M563.2 197.5h0M563.7 197.3h0M564.6 197.6h0M568.1 197.4h0M568.9 197.3h0M541.3 197.8h0M546.3 197.9h0M548.7 198.2h0M551.2 197.8h0M552.9 198.2h0M564.1 198.1h0M565.6 198.1h0M569.7 198.2h0M571.2 198.1h0M547.5 198.5h0M548.8 198.7h0M551.6 198.5h0M551.1 198.6h0M553.0 198.6h0M554.5 198.5h0M560.8 198.4h0M561.3 198.3h0M562.9 198.6h0M569.8 198.7h0M547.5 199.2h0M548.4 198.9h0M549.9 199.1h0M554.4 198.9h0M557.4 199.0h0M560.6 199.1h0M560.2 199.1h0M561.8 198.9h0M564.1 199.1h0M569.0 198.8h0M568.8 199.2h0M544.6 199.4h0M549.5 199.4h0M555.2 199.6h0M559.5 199.4h0M565.5 199.3h0M567.1 199.3h0M568.7 199.6h0M568.7 199.7h0M543.7 200.1h0M546.8 200.2h0M548.8 200.1h0M550.5 199.9h0M551.0 200.2h0M551.7 200.0h0M560.6 200.1h0M563.1 199.8h0M571.1 199.8h0M543.2 200.5h0M546.9 200.4h0M555.9 200.5h0M566.4 200.6h0M546.7 200.8h0M552.6 201.1h0M553.2 200.8h0M558.8 201.1h0M562.8 201.2h0M563.3 201.2h0M564.5 201.2h0M566.4 200.9h0M567.6 200.8h0M569.5 201.2h0M570.8 200.8h0M571.3 201.0h0M544.8 201.3h0M547.5 201.7h0M552.0 201.4h0M561.2 201.7h0M570.4 201.6h0M542.8 202.0h0M550.0 202.2h0M551.6 202.0h0M555.4 201.8h0M556.5 201.8h0M563.6 201.8h0M565.0 202.0h0M566.8 202.0h0M568.6 202.1h0M544.1 202.7h0M548.3 202.4h0M549.6 202.3h0M557.3 202.4h0M559.8 202.3h0M560.7 202.5h0M561.4 202.6h0M566.2 202.6h0M569.4 202.5h0M569.5 202.3h0M548.9 202.9h0M554.0 202.8h0M561.2 203.2h0M563.9 202.8h0M567.0 203.1h0M570.1 203.2h0M571.5 203.2h0M548.9 203.7h0M552.3 203.5h0M553.8 203.6h0M555.6 203.4h0M557.7 203.4h0M564.8 203.5h0M541.8 204.0h0M548.0 203.8h0M548.6 204.0h0M549.6 204.2h0M554.0 203.9h0M561.8 204.1h0M562.7 203.8h0M562.6 204.0h0M567.0 204.2h0M571.4 203.9h0M542.2 204.5h0M543.0 204.3h0M559.0 204.5h0M559.7 204.5h0M563.9 204.6h0M544.9 205.0h0M550.0 205.1h0M554.8 205.1h0M562.1 204.8h0M565.4 205.1h0M542.8 205.7h0M550.8 205.5h0M551.3 205.4h0M544.8 205.8h0M549.6 206.2h0M551.8 206.0h0M552.2 206.1h0M560.5 205.8h0M562.4 205.9h0M569.4 206.1h0M568.8 206.2h0M542.2 206.3h0M546.3 206.4h0M551.5 206.4h0M552.1 206.4h0M553.8 206.5h0M567.4 206.4h0M567.6 206.4h0M571.1 206.7h0M547.2 207.1h0M554.6 207.1h0M557.8 206.9h0M559.6 207.2h0M560.6 206.8h0M563.6 207.2h0M564.9 206.8h0M550.6 207.7h0M557.0 207.4h0M559.6 207.4h0M561.9 207.3h0M563.4 207.3h0M568.6 207.7h0M570.1 207.4h0M555.4 208.0h0M556.9 207.8h0M557.4 208.0h0M567.0 207.8h0M568.0 208.1h0M544.9 208.6h0M552.1 208.5h0M560.2 208.6h0M559.8 208.7h0M560.3 208.3h0M562.5 208.4h0M566.1 208.4h0M567.6 208.5h0M569.2 208.4h0M569.5 208.4h0M551.1 208.9h0M552.7 209.0h0M554.3 209.2h0M556.5 209.0h0M558.1 208.9h0M558.8 208.8h0M560.1 209.2h0M561.7 208.9h0M566.8 209.2h0M550.9 209.3h0M555.5 209.5h0M556.7 209.5h0M569.1 209.4h0M546.9 210.1h0M559.3 210.0h0M562.6 209.8h0M569.6 209.9h0M555.9 210.3h0M557.3 210.4h0M562.3 210.4h0M565.9 210.3h0M549.0 210.9h0M549.9 211.1h0M553.7 210.8h0M558.0 211.2h0M561.8 210.9h0M563.5 211.0h0M566.5 211.2h0M568.6 210.8h0M571.6 210.8h0M547.6 211.3h0M549.3 211.3h0M551.0 211.3h0M558.4 211.7h0M558.4 211.5h0M570.6 211.3h0M545.1 211.8h0M545.5 212.2h0M555.6 211.9h0M560.1 212.1h0M561.2 211.8h0M561.2 211.9h0M562.2 212.0h0M562.6 212.1h0M567.9 212.0h0M569.3 211.9h0M554.5 212.6h0M557.7 212.4h0M562.1 212.3h0M565.6 212.7h0M571.3 212.6h0M548.2 212.8h0M560.0 213.2h0M565.3 212.9h0M567.3 212.8h0M544.7 213.3h0M551.2 213.4h0M551.7 213.7h0M568.7 213.3h0M571.5 213.7h0M543.6 214.2h0M545.8 213.9h0M546.9 213.9h0M563.5 214.0h0M548.4 214.4h0M548.8 214.6h0M561.5 214.4h0M570.3 214.4h0M542.3 215.2h0M564.1 214.8h0M552.7 215.6h0M557.2 215.4h0M544.7 216.0h0M551.5 216.2h0M559.7 215.9h0M559.2 215.9h0M559.6 216.1h0M560.3 216.1h0M571.0 215.9h0M546.4 216.7h0M548.0 216.4h0M549.0 216.7h0M552.8 216.5h0M558.0 216.5h0M568.7 216.5h0M570.4 216.3h0M546.4 217.1h0M548.8 217.2h0M550.7 217.1h0M551.5 216.9h0M555.9 216.9h0M559.7 217.2h0M559.6 216.9h0M562.2 217.0h0M545.0 217.7h0M555.8 217.3h0M550.9 217.9h0M557.3 218.0h0M569.2 218.1h0M570.3 217.8h0M549.6 218.4h0M552.7 218.3h0M556.7 218.7h0M556.3 218.6h0M560.3 218.5h0M567.7 218.6h0M546.6 219.1h0M560.1 219.1h0M563.6 219.0h0M544.9 219.7h0M544.6 219.7h0M546.6 219.7h0M549.8 219.4h0M552.3 219.5h0M554.6 219.4h0M555.6 219.6h0M565.6 219.3h0M566.7 219.4h0M567.1 219.6h0M542.2 220.0h0M547.1 220.0h0M553.5 220.2h0M559.5 220.0h0M566.3 220.2h0M569.3 219.9h0M555.9 220.4h0M555.1 220.4h0M567.0 220.3h0M546.7 220.9h0M553.0 221.0h0M554.9 220.8h0M559.7 221.2h0M561.5 220.9h0M541.4 221.7h0M542.2 221.3h0M559.6 221.3h0M561.6 221.4h0M563.6 221.3h0M548.9 222.1h0M555.5 222.2h0M557.7 221.8h0M559.7 222.1h0M566.1 222.1h0M570.4 222.0h0M553.1 222.6h0M556.3 222.6h0M567.0 222.4h0M549.8 223.0h0M561.7 223.0h0M565.4 223.1h0M552.3 223.6h0M567.4 223.6h0M546.6 223.8h0M565.3 223.8h0M558.2 224.5h0M544.6 225.1h0M551.6 224.8h0M569.8 224.9h0M546.2 225.7h0M550.5 225.4h0M570.1 225.7h0M543.3 226.1h0M545.8 225.8h0M556.6 225.9h0M565.7 226.2h0M565.4 226.2h0M541.3 226.6h0M548.6 226.5h0M551.6 226.6h0M555.6 226.4h0M560.6 226.5h0M563.9 226.6h0M571.1 226.3h0M541.8 226.9h0M552.3 228.1h0M554.1 228.1h0M558.2 228.1h0M568.7 228.1h0M556.2 228.4h0M562.7 228.6h0M552.8 230.2h0M557.3 229.9h0M566.7 230.0h0M547.0 230.5h0M552.9 230.3h0M558.5 230.6h0M546.9 231.1h0M547.8 230.9h0M565.9 230.8h0M565.9 230.8h0M569.7 230.8h0M549.0 231.5h0M554.1 231.5h0M559.8 231.7h0M561.2 231.3h0M565.6 231.7h0M550.3 232.2h0M553.5 231.9h0M561.7 232.2h0M563.9 232.1h0M565.0 232.1h0M571.6 232.0h0M545.1 232.6h0M563.7 232.6h0M547.4 233.1h0M564.4 232.8h0M566.8 233.0h0M551.2 233.6h0M547.2 234.0h0M566.9 234.1h0M551.2 234.5h0M555.5 234.3h0M557.5 234.8h0M563.8 235.0h0M563.8 235.0h0M568.3 235.1h0M552.2 235.6h0M552.9 235.5h0M557.5 235.4h0M563.4 235.7h0M553.7 236.1h0M554.1 235.9h0M509.3 60.3h0M504.7 60.8h0M506.0 60.9h0M508.0 63.8h0M510.6 64.9h0M518.1 70.4h0M519.7 72.0h0M517.4 74.1h0M524.0 76.0h0M526.2 79.4h0M525.9 81.1h0M525.0 84.8h0M532.7 88.0h0M534.8 92.3h0M535.0 95.6h0M540.8 105.8h0M487.7 57.8h0M492.6 71.3h0M497.7 80.7h0M470.1 58.5h0M481.0 60.0h0M502.4 54.4h0M510.4 59.0h0M521.0 70.0h0M481.6 199.3h0M137.3 53.6h0M151.5 53.3h0M172.4 70.6h0M176.4 69.8h0M173.8 89.6h0M164.6 166.0h0M182.6 146.4h0M182.6 167.3h0M537.5 220.0h0M552.0 109.0h0M561.3 245.2h0M562.7 245.8h0M554.0 243.7h0M545.4 242.2h0M555.9 244.7h0M538.6 240.6h0M556.9 244.0h0M556.7 243.5h0M553.1 243.1h0M556.2 244.3h0M563.3 246.5h0M571.5 247.1h0M567.5 246.5h0M554.7 243.8h0M564.7 245.5h0M555.6 243.3h0M560.0 244.9h0M561.7 245.2h0M543.1 241.6h0M552.2 242.8h0M548.6 242.8h0M568.7 247.2h0M559.6 245.0h0M556.3 244.1h0M564.7 245.8h0M553.5 243.9h0M550.8 243.6h0M565.7 246.7h0M563.9 246.0h0M548.4 241.9h0M552.0 243.5h0M556.5 243.8h0M555.2 244.6h0M558.2 244.5h0M544.2 241.6h0M565.6 245.5h0M552.3 243.5h0M538.1 240.7h0M556.7 244.2h0M546.6 242.0h0M556.4 244.0h0M540.7 240.7h0M551.2 243.3h0M568.8 246.5h0M556.0 244.3h0" stroke="#27b5d1" stroke-width="2.8" stroke-linecap="round" fill="none"/><path d="M508.0 103.0h0M509.5 104.5h0M514.0 105.0h0M515.5 102.5h0M516.0 107.0h0M512.5 109.0h0M518.0 110.0h0M519.0 111.5h0M511.0 113.0h0M521.0 113.5h0M514.5 115.5h0M521.5 116.0h0M523.0 117.5h0M517.5 119.0h0M521.5 119.5h0M506.0 101.5h0M520.0 121.5h0" stroke="#f4975f" stroke-width="2.8" stroke-linecap="round" fill="none"/><rect x="1.4" y="2.45" width="682.3" height="296.15" fill="none" stroke="#353535" stroke-width="1.35"/><g font-family="&quot;Liberation Serif&quot;, serif" font-size="11" fill="#111" stroke="#111" stroke-width="0.3"><text x="42.5" y="39.6" text-anchor="end">12</text><text x="46.8" y="71.5" text-anchor="end">10</text><text x="49" y="100" text-anchor="end">8</text><text x="53.3" y="128.8" text-anchor="end">6</text><text x="55.5" y="157.5" text-anchor="end">4</text><text x="59.5" y="183.4" text-anchor="end">2</text><text x="63.4" y="210.3" text-anchor="end">-20</text><text x="89.7" y="226.5" text-anchor="end">-15</text><text x="120.3" y="244" text-anchor="end">-10</text><text x="151" y="263.4" text-anchor="end">-5</text><text x="188.7" y="284.4" text-anchor="end">0</text><text x="205.8" y="284.4" text-anchor="end">0</text><text x="271.8" y="238.9" text-anchor="end">0,1</text><text x="317.7" y="205.2" text-anchor="end">0,2</text><text x="388.5" y="27" text-anchor="end">12</text><text x="389" y="66.6" text-anchor="end">10</text><text x="389" y="104.6" text-anchor="end">8</text><text x="389" y="143.4" text-anchor="end">6</text><text x="389.9" y="183.6" text-anchor="end">4</text><text x="391.5" y="223.2" text-anchor="end">2</text><text x="396" y="263.6" text-anchor="end">-20</text><text x="450.6" y="265.6" text-anchor="end">-15</text><text x="508.6" y="267" text-anchor="end">-10</text><text x="567.7" y="269" text-anchor="end">-5</text><text x="628" y="274.8" text-anchor="end">0</text><text x="644.4" y="265.4" text-anchor="end">0</text><text x="638.3" y="233.9" text-anchor="end">0,1</text><text x="632.2" y="213.5" text-anchor="end">0,2</text></g><g font-family="&quot;Liberation Serif&quot;, serif" font-size="11" fill="#111" stroke="#111" stroke-width="0.12"><text x="486.3" y="277.3" text-anchor="start">ρ&#160; [Ns]</text><text x="19.5" y="74.6" text-anchor="start" transform="rotate(85 19.5 74.6)">Nugget diameter [mm]</text><text x="355.5" y="87.3" text-anchor="start" transform="rotate(90 355.5 87.3)">Nugget diameter [mm]</text><text x="72" y="244.5" text-anchor="start" transform="rotate(38 72 244.5)">ρ&#160; [Ns]</text><text x="280.8" y="256.5" text-anchor="start" transform="rotate(-39 280.8 256.5)">σ&#160; [kN]</text><text x="651.2" y="221.6" text-anchor="start" transform="rotate(66 651.2 221.6)">σ&#160; [kN]</text></g></svg></body></html>
